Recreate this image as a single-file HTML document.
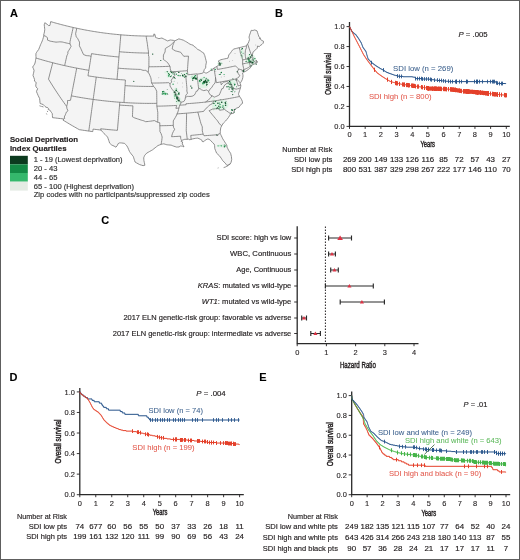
<!DOCTYPE html>
<html><head><meta charset="utf-8"><title>Figure</title><style>
html,body{margin:0;padding:0;background:#fff;}
svg{display:block;will-change:transform;}
text{font-family:"Liberation Sans",sans-serif;}
</style></head><body>
<svg width="520" height="560" viewBox="0 0 520 560">
<rect x="0" y="0" width="520" height="560" fill="#fff"/>
<g fill="#231f20">
<g id="map">
<path d="M44.59,23.35 L44.82,22.72 L45.99,23.52 L47.16,24.31 L47.94,24.98 L48.72,25.65 L49.95,25.43 L50.18,24.35 L50.4,23.26 L50.69,21.62 L52.09,22.02 L53.48,22.43 L54.88,22.83 L56.28,23.22 L57.68,23.6 L59.08,23.98 L60.49,24.36 L61.89,24.72 L63.3,25.09 L64.71,25.44 L66.12,25.8 L67.53,26.14 L68.94,26.48 L70.35,26.81 L71.77,27.14 L73.19,27.46 L74.6,27.78 L76.02,28.09 L77.44,28.39 L78.87,28.69 L80.29,28.99 L81.71,29.27 L83.14,29.55 L84.57,29.83 L85.99,30.1 L87.42,30.36 L88.85,30.62 L90.28,30.87 L91.71,31.12 L93.15,31.36 L94.58,31.59 L96.02,31.82 L97.45,32.04 L98.89,32.26 L100.36,32.47 L101.83,32.68 L103.3,32.88 L104.77,33.08 L106.25,33.27 L107.72,33.45 L109.2,33.63 L110.67,33.8 L112.15,33.97 L113.63,34.13 L115.1,34.28 L116.58,34.43 L118.06,34.57 L119.54,34.7 L121.02,34.83 L122.5,34.95 L123.98,35.07 L125.47,35.18 L126.95,35.28 L128.43,35.38 L129.91,35.47 L131.4,35.55 L132.88,35.63 L134.36,35.7 L135.85,35.77 L137.23,35.82 L138.62,35.87 L140,35.92 L141.39,35.96 L142.77,35.99 L144.16,36.02 L145.54,36.04 L146.93,36.06 L148.31,36.07 L149.7,36.08 L151.09,36.08 L152.47,36.07 L153.86,36.06 L153.84,33.97 L154.95,34.4 L155.25,35.91 L155.55,37.43 L156.67,37.83 L157.8,38.24 L158.93,38.64 L160.42,38.32 L161.91,38 L163.24,38.7 L164.58,39.4 L166.11,40.17 L167.66,40.93 L168.95,40.45 L170.25,39.97 L171.76,40.16 L173.28,40.34 L174.05,40.57 L174.83,40.8 L175.92,40.31 L177.02,39.81 L177.93,39.33 L178.83,38.84 L180.31,39.28 L181.8,39.7 L183.29,40.13 L184.42,40.77 L185.56,41.4 L186.7,42.03 L188.34,43.12 L189.99,44.2 L191.59,44.72 L193.19,45.24 L194.76,47.02 L195.56,47.2 L196.69,48.46 L197.6,49.47 L198.83,49.88 L200.1,50.55 L201.88,52 L202.73,52.45 L203.59,52.89 L204.17,54.22 L204.77,55.55 L205.2,57.18 L205.64,58.82 L206.03,60.47 L206.41,62.11 L206.08,63.86 L205.73,65.62 L205.73,67.89 L205.37,68.23 L204.3,69.51 L203.72,71.3 L203.59,71.88 L204.61,72.45 L205.63,73.02 L206.87,72.96 L207.89,72.3 L208.91,71.63 L209.92,70.97 L211.3,70 L212.68,69.02 L214.04,68.04 L215.45,67.23 L216.85,66.42 L217.88,65.67 L218.91,64.92 L219.96,63.87 L218.99,61.93 L218.22,61.04 L219.53,60.38 L220.84,59.71 L222.16,59.42 L223.47,59.13 L224.78,58.84 L226.36,58.52 L227.94,58.2 L228.55,56.18 L228.71,55 L229.61,53.95 L230.51,52.9 L231.43,51.55 L232.35,50.2 L233.13,49.6 L233.9,48.99 L235.25,48.67 L236.59,48.34 L237.93,48.01 L239.27,47.67 L240.57,47.36 L241.86,47.03 L243.15,46.71 L244.44,46.38 L245.4,46.13 L246.35,45.88 L246.94,44.88 L247.53,43.89 L248.26,43.11 L248.84,41.51 L249.52,39.58 L249.28,38.34 L249.04,37.11 L249.52,35.24 L250.38,32.79 L251.23,30.35 L252.08,30.42 L252.93,30.49 L253.85,30.22 L254.76,29.95 L255.9,30.42 L257.04,30.89 L257.64,32.78 L258.25,34.67 L258.86,36.57 L259.13,37.07 L260.74,38.32 L259.35,38.46 L260.7,39.51 L262.05,40.55 L263.52,41.27 L263.26,43.11 L262,44.38 L261.13,44.94 L260.26,45.5 L259.35,46.65 L257.5,46.03 L257.29,48.13 L256.49,48.95 L255.68,49.77 L254.83,50.45 L253.97,51.13 L253.16,51.94 L252.51,54.16 L252.25,55.51 L252.09,56.78 L253.28,57.73 L252.39,59.14 L252.22,60.06 L253.63,60.56 L254.67,62.02 L256.02,62.24 L257.01,61.96 L257.06,61.07 L256.36,60.39 L255.76,60.55 L256.43,60.66 L257.33,62.46 L256.42,63 L255.52,63.54 L254.75,63.87 L253.56,64.25 L252.92,64.6 L252.66,64.9 L251.85,65.12 L251.04,65.71 L250.23,66.3 L250.58,67.66 L249.42,68.6 L248.25,69.54 L246.97,70.44 L245.67,71.34 L244.59,71.81 L243.52,72.27 L242.59,72.95 L242.82,74.35 L243.04,75.75 L242.8,77.54 L242.35,79.38 L241.48,81.32 L240.64,82.5 L240.17,83.35 L240.81,85.23 L240.7,86.71 L240.48,87.74 L240.02,89.23 L239.56,90.71 L239.08,92.12 L238.6,93.52 L238.59,94.56 L239.59,96.48 L240.51,97.87 L241.43,99.26 L242.35,101.37 L242.55,103.35 L241.12,104.24 L240.05,105.76 L238.98,107.28 L237.89,107.65 L236.8,108.02 L235.79,108.79 L234.78,109.57 L234.21,111.41 L233.63,113.24 L232.15,113.52 L230.68,113.8 L229.51,115.73 L228.33,117.66 L226.97,119.33 L225.6,120.99 L224.68,121.86 L223.76,122.73 L222.78,124.03 L221.72,125.74 L220.75,127.77 L220.4,130.1 L220.29,131.76 L220.19,133.42 L220.72,134.53 L221.26,135.64 L222,137.22 L222.74,138.8 L223.72,140.35 L224.71,141.89 L225.72,143.56 L226.75,145.23 L227.06,147.15 L227.82,148.72 L228.59,150.29 L229.6,151.81 L230.62,153.33 L231.02,154.95 L231.43,156.57 L231.56,158.09 L231.69,159.62 L231.4,160.93 L231.1,162.24 L229.9,164.4 L228.42,164.92 L226.95,165.44 L226.12,164.31 L225.3,163.18 L223.93,161.85 L222.57,160.52 L221.88,159.36 L221.2,158.2 L220.25,156.94 L219.3,155.67 L217.98,154.46 L216.67,153.24 L216.11,151.92 L215.55,150.59 L214.75,148.45 L214.69,147.05 L214.62,145.65 L214.15,144.03 L212.47,142.57 L210.73,140.54 L209.1,139.34 L207.83,138.94 L206.91,139.33 L205.29,140.09 L203.77,141.68 L202.29,141.57 L201.9,140.21 L200.33,139.25 L199.06,138.68 L197.79,138.11 L196.59,138.24 L195.39,138.36 L193.97,138.63 L192.54,138.91 L191.14,139.43 L190.19,139.6 L189.23,139.76 L188.68,138.96 L187.26,139.36 L186.05,139.32 L184.84,139.27 L183.78,139.63 L182.72,139.98 L181.56,140.74 L181.13,141.49 L182.62,141.95 L182.27,143.94 L183.36,145.55 L183.94,146.91 L182.42,146.17 L181.44,146.1 L180.45,146.02 L179.04,146.95 L177.82,147.02 L176.6,147.09 L175.11,146.61 L173.62,146.13 L172.37,145.63 L171.13,145.13 L169.91,145.04 L168.69,144.95 L167.71,144.85 L166.74,144.74 L165.26,144.29 L163.79,143.83 L162.47,144.09 L161.14,144.34 L159.57,144.94 L158,145.52 L156.55,146.66 L155.1,147.8 L153.89,148.78 L152.66,149.77 L151.19,150.61 L149.71,151.44 L148.23,152.27 L146.74,153.1 L145.74,154.2 L144.74,155.31 L144.22,156.55 L143.71,157.8 L143.81,159.19 L143.92,160.58 L144.27,162.25 L144.63,163.92 L144.87,165.25 L143.08,165.67 L141.32,165.11 L139.55,164.55 L138.05,163.73 L136.56,162.92 L135.07,162.04 L134.61,160.63 L134.16,159.23 L133.71,157.82 L133.26,156.42 L132.19,155.12 L131.12,153.82 L130.31,152.67 L129.49,151.52 L128.71,149.67 L127.94,147.82 L126.82,145.8 L125.67,144.57 L124.52,143.33 L123.07,143.16 L121.63,142.98 L120.66,142.92 L119.69,142.86 L118.18,143.59 L117.31,145.49 L115.96,147.19 L115.02,146.64 L114.09,146.09 L112.9,145.58 L111.72,145.06 L110.7,144.13 L109.68,143.2 L109.2,141.75 L108.73,140.3 L108.15,138.7 L107.58,137.1 L106.27,135.71 L104.97,134.31 L103.66,133.05 L102.36,131.78 L100.98,130.05 L99.4,129.87 L97.82,129.68 L96.24,129.49 L94.66,129.3 L93.08,129.1 L92.92,130.35 L92.76,131.6 L91.07,131.38 L89.39,131.15 L87.7,130.92 L86.02,130.68 L84.33,130.43 L82.65,130.18 L80.97,129.92 L79.29,129.66 L77.63,128.73 L75.98,127.79 L74.34,126.85 L72.7,125.91 L71.07,124.96 L69.45,124 L67.83,123.03 L66.22,122.06 L64.61,121.09 L63.01,120.1 L63.73,118.93 L62.12,118.76 L60.52,118.59 L58.92,118.41 L57.32,118.22 L55.72,118.03 L54.11,117.84 L52.51,117.63 L52.38,115.47 L52.3,113.72 L51.42,112.36 L50.52,111.14 L49.62,109.92 L48.27,109.6 L48.54,108.5 L47.98,107.85 L47,107.52 L46.01,107.19 L45.01,106.48 L44.18,105.54 L43.35,104.61 L41.72,104.04 L40.1,103.47 L39.98,102.13 L39.87,100.79 L39.57,98.38 L38.88,97.02 L38.2,95.67 L37.35,93.68 L36.51,91.69 L36.96,90.06 L37.77,88.82 L36.86,87.98 L35.75,86.2 L35.87,84.18 L36.26,82.82 L35.79,82.09 L34.48,81.13 L34.53,79.38 L33.77,77.39 L33.01,75.39 L33.39,73.74 L33.78,72.09 L34.06,70.4 L33.33,68.42 L32.65,67.03 L33.65,65.56 L34.65,64.1 L35.3,61.94 L35.47,60.67 L35.65,59.4 L36.02,58.04 L35.96,56.55 L35.9,55.06 L36.01,53.32 L36.63,52.34 L37.26,51.36 L38.69,49.44 L39.31,47.87 L39.93,46.3 L40.55,44.73 L41.14,43.45 L41.74,42.17 L42.24,40.86 L42.74,39.55 L43.31,37.67 L43.87,35.8 L43.66,35.16 L44.06,33.53 L44.45,31.9 L44.74,29.66 L44.6,28.17 L44.46,26.67 L44.23,24.86 Z" fill="#f4f4f4"/>
<ellipse cx="169" cy="72.3" rx="5" ry="1.2" fill="#d9f2e1" opacity="0.8"/>
<ellipse cx="168.5" cy="75.5" rx="2" ry="2.5" fill="#d9f2e1" opacity="0.8"/>
<ellipse cx="165.4" cy="93.8" rx="2.2" ry="2" fill="#d9f2e1" opacity="0.8"/>
<ellipse cx="175.8" cy="93.5" rx="3" ry="6" fill="#d9f2e1" opacity="0.8"/>
<ellipse cx="178.5" cy="101" rx="3" ry="4" fill="#d9f2e1" opacity="0.8"/>
<ellipse cx="185.3" cy="75.3" rx="2.5" ry="2.5" fill="#d9f2e1" opacity="0.8"/>
<ellipse cx="194.2" cy="77.3" rx="4" ry="2.8" fill="#d9f2e1" opacity="0.8"/>
<ellipse cx="204" cy="81.5" rx="6" ry="4.5" fill="#d9f2e1" opacity="0.8"/>
<ellipse cx="203" cy="86.5" rx="5" ry="1.5" fill="#d9f2e1" opacity="0.8"/>
<ellipse cx="220" cy="63.5" rx="2.7" ry="2" fill="#d9f2e1" opacity="0.8"/>
<ellipse cx="231.5" cy="83.5" rx="4.3" ry="4.3" fill="#d9f2e1" opacity="0.8"/>
<ellipse cx="220.8" cy="104.7" rx="7.8" ry="5.3" fill="#d9f2e1" opacity="0.8"/>
<ellipse cx="251" cy="60" rx="5" ry="6" fill="#d9f2e1" opacity="0.8"/>
<ellipse cx="241.9" cy="53.8" rx="1.9" ry="5.8" fill="#d9f2e1" opacity="0.8"/>
<ellipse cx="222" cy="145.8" rx="5.4" ry="1.6" fill="#d9f2e1" opacity="0.8"/>
<ellipse cx="213.5" cy="104" rx="1.5" ry="7" fill="#d9f2e1" opacity="0.8"/>
<circle cx="169.3" cy="74.4" r="0.53" fill="#0d4f28"/>
<circle cx="175.0" cy="72.1" r="0.60" fill="#0d4f28"/>
<circle cx="167.2" cy="71.5" r="0.59" fill="#0d4f28"/>
<circle cx="168.5" cy="73.7" r="0.60" fill="#137a3d"/>
<circle cx="171.4" cy="75.7" r="0.53" fill="#2e9e5a"/>
<circle cx="174.8" cy="74.1" r="0.55" fill="#2e9e5a"/>
<circle cx="172.3" cy="73.7" r="0.51" fill="#2e9e5a"/>
<circle cx="170.7" cy="76.6" r="0.63" fill="#0d4f28"/>
<circle cx="167.4" cy="72.4" r="0.36" fill="#2e9e5a"/>
<circle cx="170.9" cy="71.6" r="0.69" fill="#0d4f28"/>
<circle cx="184.3" cy="77.3" r="0.44" fill="#0d4f28"/>
<circle cx="184.3" cy="76.0" r="0.38" fill="#0d4f28"/>
<circle cx="185.8" cy="76.4" r="0.48" fill="#2e9e5a"/>
<circle cx="184.5" cy="77.1" r="0.45" fill="#137a3d"/>
<circle cx="186.8" cy="73.4" r="0.53" fill="#137a3d"/>
<circle cx="183.1" cy="76.2" r="0.52" fill="#137a3d"/>
<circle cx="174.1" cy="81.2" r="0.35" fill="#137a3d"/>
<circle cx="175.6" cy="78.3" r="0.44" fill="#137a3d"/>
<circle cx="173.1" cy="84.2" r="0.68" fill="#2e9e5a"/>
<circle cx="163.8" cy="91.4" r="0.58" fill="#137a3d"/>
<circle cx="163.0" cy="94.0" r="0.60" fill="#2e9e5a"/>
<circle cx="162.3" cy="93.9" r="0.70" fill="#137a3d"/>
<circle cx="162.6" cy="91.8" r="0.68" fill="#137a3d"/>
<circle cx="163.0" cy="91.9" r="0.62" fill="#137a3d"/>
<circle cx="163.8" cy="93.4" r="0.52" fill="#0d4f28"/>
<circle cx="177.7" cy="91.6" r="0.47" fill="#0d4f28"/>
<circle cx="174.6" cy="98.1" r="0.40" fill="#0d4f28"/>
<circle cx="176.4" cy="97.1" r="0.46" fill="#0d4f28"/>
<circle cx="176.2" cy="88.8" r="0.46" fill="#137a3d"/>
<circle cx="176.7" cy="101.6" r="0.49" fill="#0d4f28"/>
<circle cx="177.4" cy="97.7" r="0.59" fill="#137a3d"/>
<circle cx="179.0" cy="94.6" r="0.63" fill="#2e9e5a"/>
<circle cx="177.3" cy="94.8" r="0.48" fill="#2e9e5a"/>
<circle cx="176.8" cy="98.3" r="0.67" fill="#137a3d"/>
<circle cx="179.0" cy="92.9" r="0.71" fill="#0d4f28"/>
<circle cx="178.7" cy="93.8" r="0.70" fill="#0d4f28"/>
<circle cx="176.9" cy="96.7" r="0.50" fill="#0d4f28"/>
<circle cx="192.1" cy="77.0" r="0.51" fill="#2e9e5a"/>
<circle cx="195.9" cy="78.0" r="0.54" fill="#0d4f28"/>
<circle cx="194.3" cy="77.6" r="0.47" fill="#0d4f28"/>
<circle cx="196.2" cy="78.5" r="0.45" fill="#0d4f28"/>
<circle cx="195.4" cy="75.7" r="0.65" fill="#137a3d"/>
<circle cx="192.7" cy="80.1" r="0.71" fill="#0d4f28"/>
<circle cx="192.6" cy="78.5" r="0.60" fill="#137a3d"/>
<circle cx="196.4" cy="79.0" r="0.70" fill="#137a3d"/>
<circle cx="202.6" cy="82.8" r="0.43" fill="#2e9e5a"/>
<circle cx="199.6" cy="80.5" r="0.63" fill="#0d4f28"/>
<circle cx="200.0" cy="81.5" r="0.72" fill="#2e9e5a"/>
<circle cx="208.0" cy="80.8" r="0.62" fill="#0d4f28"/>
<circle cx="206.6" cy="85.4" r="0.48" fill="#0d4f28"/>
<circle cx="207.9" cy="79.8" r="0.62" fill="#0d4f28"/>
<circle cx="201.4" cy="80.5" r="0.61" fill="#0d4f28"/>
<circle cx="202.9" cy="78.9" r="0.44" fill="#2e9e5a"/>
<circle cx="205.6" cy="81.5" r="0.73" fill="#2e9e5a"/>
<circle cx="206.2" cy="79.0" r="0.45" fill="#0d4f28"/>
<circle cx="206.6" cy="84.6" r="0.42" fill="#0d4f28"/>
<circle cx="201.3" cy="80.5" r="0.51" fill="#137a3d"/>
<circle cx="206.7" cy="78.3" r="0.43" fill="#0d4f28"/>
<circle cx="204.6" cy="83.5" r="0.54" fill="#2e9e5a"/>
<circle cx="205.8" cy="79.0" r="0.44" fill="#0d4f28"/>
<circle cx="209.7" cy="82.4" r="0.45" fill="#2e9e5a"/>
<circle cx="204.1" cy="77.4" r="0.57" fill="#2e9e5a"/>
<circle cx="207.2" cy="81.9" r="0.44" fill="#0d4f28"/>
<circle cx="221.8" cy="63.2" r="0.42" fill="#0d4f28"/>
<circle cx="219.2" cy="64.7" r="0.54" fill="#137a3d"/>
<circle cx="220.1" cy="64.2" r="0.73" fill="#0d4f28"/>
<circle cx="220.0" cy="65.3" r="0.65" fill="#0d4f28"/>
<circle cx="219.3" cy="74.5" r="0.56" fill="#137a3d"/>
<circle cx="224.1" cy="74.5" r="0.62" fill="#2e9e5a"/>
<circle cx="221.3" cy="72.4" r="0.74" fill="#137a3d"/>
<circle cx="220.3" cy="74.6" r="0.51" fill="#137a3d"/>
<circle cx="229.8" cy="84.5" r="0.56" fill="#0d4f28"/>
<circle cx="230.0" cy="87.6" r="0.55" fill="#0d4f28"/>
<circle cx="232.9" cy="78.8" r="0.52" fill="#0d4f28"/>
<circle cx="228.7" cy="83.7" r="0.49" fill="#137a3d"/>
<circle cx="235.2" cy="84.3" r="0.43" fill="#0d4f28"/>
<circle cx="232.2" cy="89.1" r="0.63" fill="#137a3d"/>
<circle cx="228.8" cy="86.7" r="0.60" fill="#137a3d"/>
<circle cx="227.0" cy="86.8" r="0.69" fill="#0d4f28"/>
<circle cx="232.2" cy="86.6" r="0.36" fill="#0d4f28"/>
<circle cx="232.3" cy="87.9" r="0.57" fill="#137a3d"/>
<circle cx="234.6" cy="84.4" r="0.56" fill="#137a3d"/>
<circle cx="234.5" cy="85.3" r="0.44" fill="#137a3d"/>
<circle cx="233.4" cy="87.7" r="0.48" fill="#137a3d"/>
<circle cx="229.1" cy="89.1" r="0.66" fill="#137a3d"/>
<circle cx="213.9" cy="103.4" r="0.68" fill="#0d4f28"/>
<circle cx="219.2" cy="107.4" r="0.43" fill="#137a3d"/>
<circle cx="222.5" cy="107.5" r="0.43" fill="#0d4f28"/>
<circle cx="223.4" cy="108.6" r="0.40" fill="#2e9e5a"/>
<circle cx="220.6" cy="107.1" r="0.67" fill="#137a3d"/>
<circle cx="220.2" cy="99.7" r="0.41" fill="#0d4f28"/>
<circle cx="215.5" cy="101.5" r="0.75" fill="#137a3d"/>
<circle cx="219.9" cy="107.1" r="0.51" fill="#2e9e5a"/>
<circle cx="219.3" cy="103.0" r="0.59" fill="#137a3d"/>
<circle cx="226.0" cy="101.3" r="0.49" fill="#0d4f28"/>
<circle cx="218.4" cy="108.7" r="0.39" fill="#137a3d"/>
<circle cx="225.2" cy="102.7" r="0.67" fill="#0d4f28"/>
<circle cx="223.8" cy="108.1" r="0.58" fill="#0d4f28"/>
<circle cx="215.6" cy="105.3" r="0.67" fill="#2e9e5a"/>
<circle cx="216.6" cy="108.6" r="0.68" fill="#137a3d"/>
<circle cx="219.0" cy="108.5" r="0.66" fill="#2e9e5a"/>
<circle cx="253.2" cy="58.9" r="0.38" fill="#137a3d"/>
<circle cx="248.9" cy="59.6" r="0.71" fill="#0d4f28"/>
<circle cx="247.7" cy="58.9" r="0.56" fill="#137a3d"/>
<circle cx="251.9" cy="62.4" r="0.74" fill="#0d4f28"/>
<circle cx="245.7" cy="61.4" r="0.45" fill="#137a3d"/>
<circle cx="249.5" cy="54.6" r="0.61" fill="#137a3d"/>
<circle cx="248.3" cy="58.1" r="0.74" fill="#0d4f28"/>
<circle cx="251.2" cy="65.9" r="0.67" fill="#0d4f28"/>
<circle cx="246.3" cy="61.2" r="0.50" fill="#0d4f28"/>
<circle cx="254.9" cy="58.6" r="0.69" fill="#137a3d"/>
<circle cx="250.9" cy="61.2" r="0.73" fill="#0d4f28"/>
<circle cx="249.7" cy="60.3" r="0.50" fill="#2e9e5a"/>
<circle cx="248.4" cy="61.9" r="0.62" fill="#2e9e5a"/>
<circle cx="253.2" cy="61.0" r="0.51" fill="#137a3d"/>
<circle cx="242.2" cy="48.6" r="0.65" fill="#2e9e5a"/>
<circle cx="243.1" cy="53.2" r="0.45" fill="#0d4f28"/>
<circle cx="242.3" cy="48.6" r="0.53" fill="#0d4f28"/>
<circle cx="241.6" cy="49.5" r="0.41" fill="#0d4f28"/>
<circle cx="241.2" cy="55.2" r="0.50" fill="#0d4f28"/>
<circle cx="224.4" cy="146.7" r="0.73" fill="#137a3d"/>
<circle cx="224.3" cy="145.0" r="0.55" fill="#0d4f28"/>
<circle cx="220.1" cy="145.8" r="0.46" fill="#2e9e5a"/>
<circle cx="234.2" cy="112.1" r="0.60" fill="#137a3d"/>
<circle cx="235.0" cy="109.4" r="0.55" fill="#137a3d"/>
<circle cx="234.4" cy="109.5" r="0.60" fill="#0d4f28"/>
<circle cx="231.8" cy="109.9" r="0.72" fill="#0d4f28"/>
<circle cx="231.5" cy="109.7" r="0.54" fill="#2e9e5a"/>
<circle cx="232.6" cy="110.2" r="0.65" fill="#0d4f28"/>
<circle cx="232.3" cy="91.7" r="0.53" fill="#137a3d"/>
<circle cx="236.7" cy="86.7" r="0.50" fill="#137a3d"/>
<circle cx="233.8" cy="88.6" r="0.52" fill="#137a3d"/>
<circle cx="234.1" cy="83.2" r="0.38" fill="#2e9e5a"/>
<circle cx="232.1" cy="88.8" r="0.68" fill="#0d4f28"/>
<circle cx="234.7" cy="91.9" r="0.38" fill="#0d4f28"/>
<circle cx="233.0" cy="89.9" r="0.63" fill="#0d4f28"/>
<circle cx="235.0" cy="91.2" r="0.46" fill="#2e9e5a"/>
<circle cx="173.7" cy="73.9" r="0.50" fill="#2e9e5a"/>
<circle cx="173.4" cy="76.7" r="0.53" fill="#2e9e5a"/>
<circle cx="181.6" cy="73.4" r="0.44" fill="#2e9e5a"/>
<circle cx="178.2" cy="71.7" r="0.36" fill="#2e9e5a"/>
<circle cx="180.1" cy="75.7" r="0.65" fill="#137a3d"/>
<circle cx="176.4" cy="74.1" r="0.68" fill="#137a3d"/>
<circle cx="178.8" cy="72.4" r="0.70" fill="#0d4f28"/>
<circle cx="178.2" cy="75.4" r="0.74" fill="#2e9e5a"/>
<circle cx="167.2" cy="93.8" r="0.58" fill="#0d4f28"/>
<circle cx="164.4" cy="92.3" r="0.38" fill="#2e9e5a"/>
<circle cx="167.9" cy="94.4" r="0.36" fill="#0d4f28"/>
<circle cx="167.2" cy="89.6" r="0.45" fill="#0d4f28"/>
<circle cx="163.8" cy="93.6" r="0.66" fill="#2e9e5a"/>
<circle cx="211.2" cy="69.0" r="0.62" fill="#2e9e5a"/>
<circle cx="211.9" cy="70.2" r="0.63" fill="#0d4f28"/>
<circle cx="215.3" cy="69.5" r="0.69" fill="#2e9e5a"/>
<circle cx="191.8" cy="88.0" r="0.73" fill="#0d4f28"/>
<circle cx="190.8" cy="86.1" r="0.67" fill="#0d4f28"/>
<circle cx="165.4" cy="93.8" r="1.1" fill="#2e9e5a"/>
<circle cx="168.8" cy="75.8" r="0.9" fill="#2e9e5a"/>
<circle cx="203" cy="83.5" r="0.9" fill="#2e9e5a"/>
<circle cx="208.5" cy="80.5" r="0.8" fill="#2e9e5a"/>
<circle cx="199.5" cy="81" r="0.7" fill="#2e9e5a"/>
<circle cx="230.5" cy="83" r="0.8" fill="#2e9e5a"/>
<circle cx="223" cy="106" r="0.8" fill="#2e9e5a"/>
<circle cx="220" cy="104.5" r="0.7" fill="#2e9e5a"/>
<circle cx="218.1" cy="145.8" r="0.6" fill="#2e9e5a"/>
<circle cx="221.5" cy="145.8" r="0.6" fill="#2e9e5a"/>
<circle cx="225.4" cy="145.8" r="0.6" fill="#2e9e5a"/>
<circle cx="249" cy="60.5" r="0.8" fill="#2e9e5a"/>
<circle cx="253.5" cy="60" r="0.7" fill="#2e9e5a"/>
<circle cx="241.5" cy="52" r="0.5" fill="#2e9e5a"/>
<circle cx="242" cy="56" r="0.5" fill="#2e9e5a"/>
<circle cx="175" cy="96" r="0.8" fill="#2e9e5a"/>
<circle cx="194.5" cy="76.5" r="0.7" fill="#2e9e5a"/>
<circle cx="133.8" cy="81.3" r="0.6" fill="#0d4f28"/>
<circle cx="152.7" cy="54.1" r="0.7" fill="#0d4f28"/>
<circle cx="160.8" cy="60.5" r="0.6" fill="#0d4f28"/>
<circle cx="171.5" cy="72.3" r="0.6" fill="#0d4f28"/>
<circle cx="173" cy="72.3" r="0.6" fill="#0d4f28"/>
<circle cx="174.2" cy="77.7" r="0.8" fill="#0d4f28"/>
<circle cx="174.6" cy="92.3" r="1.0" fill="#0d4f28"/>
<circle cx="175.5" cy="94.5" r="0.9" fill="#0d4f28"/>
<circle cx="176.2" cy="90.4" r="0.8" fill="#0d4f28"/>
<circle cx="177.3" cy="98.8" r="0.9" fill="#0d4f28"/>
<circle cx="178.5" cy="100.4" r="0.9" fill="#0d4f28"/>
<circle cx="176.9" cy="97.3" r="0.8" fill="#0d4f28"/>
<circle cx="179.2" cy="100.8" r="0.7" fill="#0d4f28"/>
<circle cx="182.7" cy="75.4" r="0.8" fill="#0d4f28"/>
<circle cx="185.8" cy="76.5" r="0.8" fill="#0d4f28"/>
<circle cx="184.5" cy="74.5" r="0.6" fill="#0d4f28"/>
<circle cx="193.8" cy="78.1" r="1.0" fill="#0d4f28"/>
<circle cx="195.8" cy="78.5" r="0.9" fill="#0d4f28"/>
<circle cx="204.2" cy="81.9" r="1.2" fill="#0d4f28"/>
<circle cx="206.5" cy="82.3" r="1.1" fill="#0d4f28"/>
<circle cx="205.5" cy="80.5" r="0.8" fill="#0d4f28"/>
<circle cx="201" cy="79.5" r="0.7" fill="#0d4f28"/>
<circle cx="207" cy="84.5" r="0.7" fill="#0d4f28"/>
<circle cx="219.6" cy="63.5" r="1.0" fill="#0d4f28"/>
<circle cx="231.2" cy="84.6" r="0.9" fill="#0d4f28"/>
<circle cx="229.6" cy="81.5" r="0.8" fill="#0d4f28"/>
<circle cx="236.2" cy="80" r="0.7" fill="#0d4f28"/>
<circle cx="231.2" cy="91.5" r="0.6" fill="#0d4f28"/>
<circle cx="232.7" cy="94.6" r="0.6" fill="#0d4f28"/>
<circle cx="231.3" cy="86.9" r="0.7" fill="#0d4f28"/>
<circle cx="217.9" cy="103.3" r="0.8" fill="#0d4f28"/>
<circle cx="221.7" cy="102.3" r="0.8" fill="#0d4f28"/>
<circle cx="217.4" cy="108.1" r="0.8" fill="#0d4f28"/>
<circle cx="225.6" cy="105.2" r="0.8" fill="#0d4f28"/>
<circle cx="225.6" cy="103.3" r="0.7" fill="#0d4f28"/>
<circle cx="218.8" cy="106.2" r="0.7" fill="#0d4f28"/>
<circle cx="231.3" cy="112.9" r="0.7" fill="#0d4f28"/>
<circle cx="243.5" cy="71" r="1.0" fill="#0d4f28"/>
<circle cx="237.3" cy="71.7" r="0.7" fill="#0d4f28"/>
<circle cx="251.9" cy="55.4" r="0.8" fill="#0d4f28"/>
<circle cx="250.4" cy="57.1" r="0.8" fill="#0d4f28"/>
<circle cx="248.8" cy="58.8" r="0.7" fill="#0d4f28"/>
<circle cx="250" cy="61.9" r="1.0" fill="#0d4f28"/>
<circle cx="252.7" cy="62.7" r="0.9" fill="#0d4f28"/>
<circle cx="256.2" cy="64.2" r="0.6" fill="#0d4f28"/>
<circle cx="216.9" cy="135" r="0.7" fill="#0d4f28"/>
<circle cx="220.4" cy="73.8" r="0.45" fill="#9a9a9a"/>
<circle cx="224.2" cy="76.2" r="0.45" fill="#9a9a9a"/>
<circle cx="215.8" cy="71.5" r="0.45" fill="#9a9a9a"/>
<circle cx="221.2" cy="77" r="0.45" fill="#9a9a9a"/>
<circle cx="255.8" cy="45" r="0.45" fill="#9a9a9a"/>
<circle cx="235" cy="53.5" r="0.45" fill="#9a9a9a"/>
<circle cx="229.6" cy="61.2" r="0.45" fill="#9a9a9a"/>
<circle cx="232.7" cy="60.4" r="0.45" fill="#9a9a9a"/>
<circle cx="158.8" cy="77.7" r="0.45" fill="#9a9a9a"/>
<circle cx="182.7" cy="83" r="0.45" fill="#9a9a9a"/>
<circle cx="182.7" cy="86.9" r="0.45" fill="#9a9a9a"/>
<circle cx="177.7" cy="83" r="0.45" fill="#9a9a9a"/>
<path d="M44.59,23.35 L44.82,22.72 L45.99,23.52 L47.16,24.31 L47.94,24.98 L48.72,25.65 L49.95,25.43 L50.18,24.35 L50.4,23.26 L50.69,21.62 L52.09,22.02 L53.48,22.43 L54.88,22.83 L56.28,23.22 L57.68,23.6 L59.08,23.98 L60.49,24.36 L61.89,24.72 L63.3,25.09 L64.71,25.44 L66.12,25.8 L67.53,26.14 L68.94,26.48 L70.35,26.81 L71.77,27.14 L73.19,27.46 L74.6,27.78 L76.02,28.09 L77.44,28.39 L78.87,28.69 L80.29,28.99 L81.71,29.27 L83.14,29.55 L84.57,29.83 L85.99,30.1 L87.42,30.36 L88.85,30.62 L90.28,30.87 L91.71,31.12 L93.15,31.36 L94.58,31.59 L96.02,31.82 L97.45,32.04 L98.89,32.26 L100.36,32.47 L101.83,32.68 L103.3,32.88 L104.77,33.08 L106.25,33.27 L107.72,33.45 L109.2,33.63 L110.67,33.8 L112.15,33.97 L113.63,34.13 L115.1,34.28 L116.58,34.43 L118.06,34.57 L119.54,34.7 L121.02,34.83 L122.5,34.95 L123.98,35.07 L125.47,35.18 L126.95,35.28 L128.43,35.38 L129.91,35.47 L131.4,35.55 L132.88,35.63 L134.36,35.7 L135.85,35.77 L137.23,35.82 L138.62,35.87 L140,35.92 L141.39,35.96 L142.77,35.99 L144.16,36.02 L145.54,36.04 L146.93,36.06 L148.31,36.07 L149.7,36.08 L151.09,36.08 L152.47,36.07 L153.86,36.06 L153.84,33.97 L154.95,34.4 L155.25,35.91 L155.55,37.43 L156.67,37.83 L157.8,38.24 L158.93,38.64 L160.42,38.32 L161.91,38 L163.24,38.7 L164.58,39.4 L166.11,40.17 L167.66,40.93 L168.95,40.45 L170.25,39.97 L171.76,40.16 L173.28,40.34 L174.05,40.57 L174.83,40.8 L175.92,40.31 L177.02,39.81 L177.93,39.33 L178.83,38.84 L180.31,39.28 L181.8,39.7 L183.29,40.13 L184.42,40.77 L185.56,41.4 L186.7,42.03 L188.34,43.12 L189.99,44.2 L191.59,44.72 L193.19,45.24 L194.76,47.02 L195.56,47.2 L196.69,48.46 L197.6,49.47 L198.83,49.88 L200.1,50.55 L201.88,52 L202.73,52.45 L203.59,52.89 L204.17,54.22 L204.77,55.55 L205.2,57.18 L205.64,58.82 L206.03,60.47 L206.41,62.11 L206.08,63.86 L205.73,65.62 L205.73,67.89 L205.37,68.23 L204.3,69.51 L203.72,71.3 L203.59,71.88 L204.61,72.45 L205.63,73.02 L206.87,72.96 L207.89,72.3 L208.91,71.63 L209.92,70.97 L211.3,70 L212.68,69.02 L214.04,68.04 L215.45,67.23 L216.85,66.42 L217.88,65.67 L218.91,64.92 L219.96,63.87 L218.99,61.93 L218.22,61.04 L219.53,60.38 L220.84,59.71 L222.16,59.42 L223.47,59.13 L224.78,58.84 L226.36,58.52 L227.94,58.2 L228.55,56.18 L228.71,55 L229.61,53.95 L230.51,52.9 L231.43,51.55 L232.35,50.2 L233.13,49.6 L233.9,48.99 L235.25,48.67 L236.59,48.34 L237.93,48.01 L239.27,47.67 L240.57,47.36 L241.86,47.03 L243.15,46.71 L244.44,46.38 L245.4,46.13 L246.35,45.88 L246.94,44.88 L247.53,43.89 L248.26,43.11 L248.84,41.51 L249.52,39.58 L249.28,38.34 L249.04,37.11 L249.52,35.24 L250.38,32.79 L251.23,30.35 L252.08,30.42 L252.93,30.49 L253.85,30.22 L254.76,29.95 L255.9,30.42 L257.04,30.89 L257.64,32.78 L258.25,34.67 L258.86,36.57 L259.13,37.07 L260.74,38.32 L259.35,38.46 L260.7,39.51 L262.05,40.55 L263.52,41.27 L263.26,43.11 L262,44.38 L261.13,44.94 L260.26,45.5 L259.35,46.65 L257.5,46.03 L257.29,48.13 L256.49,48.95 L255.68,49.77 L254.83,50.45 L253.97,51.13 L253.16,51.94 L252.51,54.16 L252.25,55.51 L252.09,56.78 L253.28,57.73 L252.39,59.14 L252.22,60.06 L253.63,60.56 L254.67,62.02 L256.02,62.24 L257.01,61.96 L257.06,61.07 L256.36,60.39 L255.76,60.55 L256.43,60.66 L257.33,62.46 L256.42,63 L255.52,63.54 L254.75,63.87 L253.56,64.25 L252.92,64.6 L252.66,64.9 L251.85,65.12 L251.04,65.71 L250.23,66.3 L250.58,67.66 L249.42,68.6 L248.25,69.54 L246.97,70.44 L245.67,71.34 L244.59,71.81 L243.52,72.27 L242.59,72.95 L242.82,74.35 L243.04,75.75 L242.8,77.54 L242.35,79.38 L241.48,81.32 L240.64,82.5 L240.17,83.35 L240.81,85.23 L240.7,86.71 L240.48,87.74 L240.02,89.23 L239.56,90.71 L239.08,92.12 L238.6,93.52 L238.59,94.56 L239.59,96.48 L240.51,97.87 L241.43,99.26 L242.35,101.37 L242.55,103.35 L241.12,104.24 L240.05,105.76 L238.98,107.28 L237.89,107.65 L236.8,108.02 L235.79,108.79 L234.78,109.57 L234.21,111.41 L233.63,113.24 L232.15,113.52 L230.68,113.8 L229.51,115.73 L228.33,117.66 L226.97,119.33 L225.6,120.99 L224.68,121.86 L223.76,122.73 L222.78,124.03 L221.72,125.74 L220.75,127.77 L220.4,130.1 L220.29,131.76 L220.19,133.42 L220.72,134.53 L221.26,135.64 L222,137.22 L222.74,138.8 L223.72,140.35 L224.71,141.89 L225.72,143.56 L226.75,145.23 L227.06,147.15 L227.82,148.72 L228.59,150.29 L229.6,151.81 L230.62,153.33 L231.02,154.95 L231.43,156.57 L231.56,158.09 L231.69,159.62 L231.4,160.93 L231.1,162.24 L229.9,164.4 L228.42,164.92 L226.95,165.44 L226.12,164.31 L225.3,163.18 L223.93,161.85 L222.57,160.52 L221.88,159.36 L221.2,158.2 L220.25,156.94 L219.3,155.67 L217.98,154.46 L216.67,153.24 L216.11,151.92 L215.55,150.59 L214.75,148.45 L214.69,147.05 L214.62,145.65 L214.15,144.03 L212.47,142.57 L210.73,140.54 L209.1,139.34 L207.83,138.94 L206.91,139.33 L205.29,140.09 L203.77,141.68 L202.29,141.57 L201.9,140.21 L200.33,139.25 L199.06,138.68 L197.79,138.11 L196.59,138.24 L195.39,138.36 L193.97,138.63 L192.54,138.91 L191.14,139.43 L190.19,139.6 L189.23,139.76 L188.68,138.96 L187.26,139.36 L186.05,139.32 L184.84,139.27 L183.78,139.63 L182.72,139.98 L181.56,140.74 L181.13,141.49 L182.62,141.95 L182.27,143.94 L183.36,145.55 L183.94,146.91 L182.42,146.17 L181.44,146.1 L180.45,146.02 L179.04,146.95 L177.82,147.02 L176.6,147.09 L175.11,146.61 L173.62,146.13 L172.37,145.63 L171.13,145.13 L169.91,145.04 L168.69,144.95 L167.71,144.85 L166.74,144.74 L165.26,144.29 L163.79,143.83 L162.47,144.09 L161.14,144.34 L159.57,144.94 L158,145.52 L156.55,146.66 L155.1,147.8 L153.89,148.78 L152.66,149.77 L151.19,150.61 L149.71,151.44 L148.23,152.27 L146.74,153.1 L145.74,154.2 L144.74,155.31 L144.22,156.55 L143.71,157.8 L143.81,159.19 L143.92,160.58 L144.27,162.25 L144.63,163.92 L144.87,165.25 L143.08,165.67 L141.32,165.11 L139.55,164.55 L138.05,163.73 L136.56,162.92 L135.07,162.04 L134.61,160.63 L134.16,159.23 L133.71,157.82 L133.26,156.42 L132.19,155.12 L131.12,153.82 L130.31,152.67 L129.49,151.52 L128.71,149.67 L127.94,147.82 L126.82,145.8 L125.67,144.57 L124.52,143.33 L123.07,143.16 L121.63,142.98 L120.66,142.92 L119.69,142.86 L118.18,143.59 L117.31,145.49 L115.96,147.19 L115.02,146.64 L114.09,146.09 L112.9,145.58 L111.72,145.06 L110.7,144.13 L109.68,143.2 L109.2,141.75 L108.73,140.3 L108.15,138.7 L107.58,137.1 L106.27,135.71 L104.97,134.31 L103.66,133.05 L102.36,131.78 L100.98,130.05 L99.4,129.87 L97.82,129.68 L96.24,129.49 L94.66,129.3 L93.08,129.1 L92.92,130.35 L92.76,131.6 L91.07,131.38 L89.39,131.15 L87.7,130.92 L86.02,130.68 L84.33,130.43 L82.65,130.18 L80.97,129.92 L79.29,129.66 L77.63,128.73 L75.98,127.79 L74.34,126.85 L72.7,125.91 L71.07,124.96 L69.45,124 L67.83,123.03 L66.22,122.06 L64.61,121.09 L63.01,120.1 L63.73,118.93 L62.12,118.76 L60.52,118.59 L58.92,118.41 L57.32,118.22 L55.72,118.03 L54.11,117.84 L52.51,117.63 L52.38,115.47 L52.3,113.72 L51.42,112.36 L50.52,111.14 L49.62,109.92 L48.27,109.6 L48.54,108.5 L47.98,107.85 L47,107.52 L46.01,107.19 L45.01,106.48 L44.18,105.54 L43.35,104.61 L41.72,104.04 L40.1,103.47 L39.98,102.13 L39.87,100.79 L39.57,98.38 L38.88,97.02 L38.2,95.67 L37.35,93.68 L36.51,91.69 L36.96,90.06 L37.77,88.82 L36.86,87.98 L35.75,86.2 L35.87,84.18 L36.26,82.82 L35.79,82.09 L34.48,81.13 L34.53,79.38 L33.77,77.39 L33.01,75.39 L33.39,73.74 L33.78,72.09 L34.06,70.4 L33.33,68.42 L32.65,67.03 L33.65,65.56 L34.65,64.1 L35.3,61.94 L35.47,60.67 L35.65,59.4 L36.02,58.04 L35.96,56.55 L35.9,55.06 L36.01,53.32 L36.63,52.34 L37.26,51.36 L38.69,49.44 L39.31,47.87 L39.93,46.3 L40.55,44.73 L41.14,43.45 L41.74,42.17 L42.24,40.86 L42.74,39.55 L43.31,37.67 L43.87,35.8 L43.66,35.16 L44.06,33.53 L44.45,31.9 L44.74,29.66 L44.6,28.17 L44.46,26.67 L44.23,24.86 Z" fill="none" stroke="#737373" stroke-width="0.8" stroke-linejoin="round"/>
<path d="M39.5,105.76 L40.59,106.14 L41.68,106.51 M41.93,106.45 L43.46,106.96 M46.98,111.02 L47.97,111.84 M46.38,113.48 L46.86,114.47 M230.02,163.54 L229.02,164.6 L228.02,165.66 L226.82,166.29 L225.62,166.93 L223.64,167.62 M218.47,167.87 L217.72,168.09 M43.77,35.48 L44.84,35.95 L45.92,36.42 L46.58,36.9 L47.25,37.39 L47.6,38.95 L47.48,40.08 L48.85,40.61 L50.23,41.15 L51.77,41.43 L53.32,41.71 L54.67,41.93 L56.03,42.15 L57.27,42.05 L58.5,41.95 L59.74,41.84 L60.96,41.92 L62.19,41.99 L63.48,42.31 L64.78,42.62 L66.08,42.93 L67.38,43.23 L68.68,43.53 L69.99,43.82 M73.19,27.46 L72.74,29.45 L72.3,31.44 L71.85,33.43 L71.4,35.43 L70.95,37.43 L70.5,39.43 L70.05,41.43 L70.02,42.63 L69.99,43.82 M69.99,43.82 L70.54,45.09 L71.1,46.36 L70.42,47.64 L69.74,48.92 L68.79,50.43 L67.84,51.94 L67.87,53.67 L67.37,54.71 L66.87,55.75 L66.42,57.72 L65.98,59.69 L65.53,61.67 L65.09,63.65 L64.64,65.62 M36.02,58.04 L37.59,58.52 L39.17,58.99 L40.75,59.45 L42.33,59.91 L43.91,60.36 L45.49,60.81 L47.08,61.24 L48.67,61.67 L50.26,62.1 L51.85,62.52 L53.44,62.93 L55.03,63.33 L56.63,63.73 L58.23,64.12 L59.83,64.51 L61.43,64.89 L63.03,65.26 L64.64,65.62 L66.24,65.98 L67.85,66.33 L69.46,66.67 L71.07,67.01 L72.68,67.34 L74.29,67.67 L75.91,67.98 L77.52,68.29 L79.14,68.6 L80.76,68.89 L82.38,69.18 L84,69.47 L85.62,69.74 L87.24,70.01 L88.87,70.28 M52.73,62.75 L52.21,64.79 L51.68,66.84 L51.15,68.89 L50.62,70.93 L50.09,72.98 L49.56,75.03 L49.04,77.08 L48.51,79.13 L49.71,81.1 L50.93,83.07 L52.16,85.04 L53.4,87 L54.66,88.96 L55.94,90.92 L57.22,92.87 L58.53,94.81 L59.84,96.76 L61.17,98.7 L62.52,100.63 L63.88,102.56 L65.25,104.49 L66.64,106.41 M66.64,106.41 L67.1,104.78 L67.56,103.15 L67.52,101.84 L67.48,100.54 L68.86,100.53 L70.5,100.27 L70.93,98.05 L71.35,95.84 M71.35,95.84 L71.77,93.7 L72.18,91.57 L72.59,89.44 L73.01,87.31 L73.42,85.18 L73.83,83.05 L74.25,80.91 L74.66,78.78 L75.07,76.65 L75.48,74.52 L75.9,72.4 L76.31,70.27 L76.72,68.14 M66.64,106.41 L67.01,108.78 L68.03,110.71 L66.35,112.1 L65.86,113.44 L65.36,114.78 L64.77,115.95 L64.18,117.12 L64.93,118.13 L63.73,118.93 M76.78,28.25 L76.39,30.09 L75.99,31.93 L75.6,33.77 L75.94,35.35 L76.29,36.93 L76.92,37.63 L77.55,38.32 L78.53,40.23 L79.52,42.13 L79.45,43.96 L79.39,45.8 L80.03,47.06 L80.69,48.33 L81.39,49.88 L82.1,51.44 L82.81,53 L83.54,54.55 L84.86,55.07 L86.18,55.59 L87.77,55.72 L89.36,55.84 L90.22,56.12 L91.08,56.4 M87.98,75.84 L88.34,73.61 L88.69,71.39 L89.05,69.16 L89.4,66.94 L89.76,64.72 L90.11,62.5 L90.46,60.28 L90.82,58.07 L91.17,55.85 L91.53,53.64 M91.53,53.64 L93.04,53.88 L94.56,54.11 L96.08,54.34 L97.6,54.56 L99.12,54.77 L100.64,54.98 L102.16,55.18 L103.69,55.38 L105.21,55.57 L106.73,55.75 L108.26,55.93 L109.78,56.1 L111.31,56.26 L112.84,56.42 L114.37,56.57 L115.9,56.72 L117.42,56.86 L118.95,56.99 M87.98,75.84 L89.6,76.1 L91.22,76.34 L92.84,76.59 L94.46,76.82 L96.08,77.05 L97.7,77.27 L99.32,77.49 L100.95,77.69 L102.57,77.89 L104.2,78.09 L105.83,78.28 L107.45,78.46 L109.08,78.63 L110.71,78.8 L112.34,78.96 L113.97,79.12 L115.6,79.27 L117.23,79.41 L118.87,79.54 L120.5,79.67 L122.13,79.79 L123.76,79.9 L125.4,80.01 M96.26,77.07 L95.96,79.23 L95.66,81.4 L95.36,83.56 L95.06,85.72 L94.77,87.88 L94.47,90.05 L94.17,92.21 L93.87,94.37 L93.57,96.54 L93.27,98.7 L92.97,100.86 L92.67,103.02 L92.37,105.19 L92.08,107.35 L91.78,109.51 L91.48,111.67 L91.18,113.83 L90.88,115.99 L90.58,118.15 L90.29,120.3 L89.99,122.46 L89.69,124.62 L89.39,126.77 L89.09,128.92 L88.8,131.07 M71.35,95.84 L73.08,96.16 L74.8,96.48 L76.53,96.8 L78.25,97.1 L79.98,97.4 L81.71,97.69 L83.44,97.98 L85.17,98.25 L86.91,98.52 L88.64,98.79 L90.37,99.04 L92.11,99.29 L93.85,99.53 L95.59,99.76 L97.32,99.99 L99.06,100.21 L100.8,100.42 L102.55,100.63 L104.29,100.82 L106.03,101.01 L107.78,101.2 L109.52,101.37 L111.27,101.54 L113.01,101.7 L114.76,101.85 L116.51,102 L118.26,102.14 L120,102.27 L121.75,102.39 L123.5,102.51 L125.25,102.62 L127,102.72 L128.75,102.82 L130.51,102.91 L132.26,102.99 L134.01,103.06 L135.76,103.13 L137.52,103.19 L139.27,103.24 L141.02,103.28 L142.77,103.32 L144.53,103.35 L146.28,103.37 L148.03,103.38 L149.79,103.39 L151.54,103.39 L153.3,103.38 L155.05,103.37 L156.8,103.35 M119.77,102.25 L119.67,103.66 L119.56,105.07 L121.23,105.19 L122.89,105.3 L124.56,105.41 L126.23,105.51 L127.89,105.6 L129.56,105.69 L131.23,105.77 L132.9,105.84 L132.8,108.03 L132.71,110.22 L132.62,112.4 L132.53,114.59 L132.44,116.77 M119.56,105.07 L119.39,107.18 L119.21,109.29 L119.03,111.39 L118.85,113.5 L118.67,115.61 L118.49,117.71 L118.31,119.82 L118.13,121.92 L117.95,124.03 L117.77,126.13 L117.6,128.23 L117.42,130.33 L115.55,130.19 L113.69,130.04 L111.83,129.88 L109.97,129.71 L108.12,129.54 L106.26,129.36 L104.4,129.17 L102.55,128.97 L100.69,128.77 L100.98,130.05 M125.4,80.01 L125.26,82.26 L125.11,84.51 L124.97,86.77 L124.82,89.02 L124.68,91.27 L124.54,93.53 L124.39,95.78 L124.25,98.03 L124.11,100.29 L123.96,102.54 M125.04,85.64 L126.72,85.74 L128.4,85.84 L130.09,85.93 L131.77,86.01 L133.45,86.09 L135.14,86.16 L136.82,86.22 L138.51,86.27 L140.19,86.32 L141.88,86.36 L143.56,86.39 L145.25,86.42 L146.93,86.44 L148.62,86.45 L150.3,86.46 L151.99,86.46 L153.67,86.45 M117.05,79.39 L117.24,77.14 L117.43,74.9 L117.62,72.66 L117.81,70.41 L118,68.17 L118.19,65.93 L118.38,63.69 L118.57,61.46 L118.76,59.22 L118.95,56.99 L119.14,54.76 L119.33,52.53 L119.52,50.3 L119.71,48.08 L119.9,45.86 L120.09,43.65 L120.27,41.43 L120.46,39.22 L120.65,37.02 L120.84,34.81 M119.4,51.75 L120.93,51.88 L122.46,52 L123.99,52.11 L125.52,52.22 L127.05,52.32 L128.58,52.42 L130.11,52.5 L131.65,52.59 L133.18,52.66 L134.71,52.73 L136.25,52.79 L137.78,52.85 L139.31,52.9 L140.85,52.95 L142.38,52.98 L143.92,53.02 L145.45,53.04 L146.99,53.06 L148.52,53.07 M118,68.17 L119.61,68.3 L121.22,68.43 L122.83,68.55 L124.43,68.66 L126.04,68.77 L127.65,68.87 L129.26,68.96 L130.87,69.05 L132.48,69.13 L134.09,69.2 L135.7,69.26 L137.31,69.32 L138.92,69.38 L140.54,69.42 L141.74,69.87 L142.96,70.32 L144.38,70.35 L145.81,70.37 L147.02,71.37 L148.24,72.36 M146.13,36.05 L146.35,37.71 L146.58,39.37 L146.93,41.32 L147.29,43.26 L147.47,44.74 L147.64,46.23 L147.82,47.71 L148.1,49.39 L148.38,51.06 L148.52,53.07 M148.52,53.07 L148.51,54.58 L148.5,56.09 L148.93,56.65 L148.92,58.67 L148.91,60.68 L148.9,62.7 L148.89,64.72 L148.88,66.74 M148.88,66.74 L148.67,68.15 L148.46,69.55 L148.35,70.95 L148.24,72.36 M148.88,66.74 L150.39,66.75 L151.9,66.74 L153.41,66.74 L154.92,66.72 L156.42,66.7 L157.93,66.68 L159.44,66.65 L160.95,66.61 L162.45,66.57 L163.96,66.52 L165.47,66.46 L166.98,66.4 L168.48,66.33 L169.99,66.26 M148.24,72.36 L149.26,74.05 L149.98,75.75 L150.7,77.44 L151.12,79.13 L151.33,81.38 L151.67,83.07 L152.67,84.76 L153.67,86.45 L155.18,88.13 L155.94,89.67 L156.71,91.21 L156.73,93.23 L156.76,95.26 L156.78,97.28 L156.8,99.3 L156.82,101.32 L156.85,103.35 M151.67,83.07 L153.22,83.06 L154.77,83.05 L156.32,83.03 L157.87,83.01 L159.41,82.98 L160.96,82.94 L162.51,82.9 L164.06,82.85 L165.61,82.79 L167.16,82.73 L168.71,82.67 L170.03,83.85 M165.32,48.55 L165.19,50.22 L165.07,51.9 L164.25,53.47 L163.42,55.04 L163.4,57.28 L163.38,59.52 L164.39,60.19 L165.41,60.85 L166.44,61.65 L167.48,62.45 L168.73,64.35 L169.99,66.26 M169.99,66.26 L170.24,68.36 L170.49,70.46 L171.54,71.11 L172.6,71.75 L174.13,73.35 L174.41,74.47 L174.68,75.58 L173.13,77.36 L172.17,78.83 L171.2,80.29 L171.7,81.96 L170.87,82.9 L170.03,83.85 L170,86 L171.04,87.64 L172.09,89.28 L173.01,90.36 L173.93,91.44 L175.75,93.03 L175.85,94.72 L177.24,96.05 L178.64,97.37 L178.97,99.05 L179.31,100.72 L180.97,102.3 L180.65,104.02 L179.62,105.23 L179.27,106.66 L178.91,108.1 L178.56,109.54 L178.2,110.98 L177.44,113.28 L176.64,115.03 L175.4,117.36 L174.35,119.11 L173.29,120.86 L173.29,123.11 L173.29,125.37 L173.64,127.6 L174.66,129.24 L173.37,131.56 L172.51,133.29 L172.02,134.99 L171.52,136.7 M156.84,106.17 L158.5,106.14 L160.16,106.11 L161.82,106.07 L163.48,106.02 L165.13,105.97 L166.79,105.91 L168.45,105.84 L170.1,105.77 L171.76,105.69 L173.42,105.61 L175.07,105.51 L176.73,105.41 L176.3,106.88 L175.88,108.35 L177.4,108.23 L178.91,108.1 M156.8,103.35 L156.82,104.76 L156.84,106.17 M156.84,106.17 L157.16,108.24 L157.47,110.3 L157.79,112.36 L157.78,114.35 L157.77,116.33 L157.75,118.32 L157.74,120.3 L157.72,122.29 M132.44,116.77 L133.33,117.26 L134.23,117.75 L136.04,118.38 L137.4,118.84 L138.76,119.31 L140.13,119.76 L141.5,120.22 L142.64,120.52 L143.79,120.82 L144.71,121.26 L145.62,121.69 L147.01,121.57 L148.39,121.44 L149.55,121.3 L150.7,121.16 L152.54,120.87 L154.38,120.58 L156.05,121.44 L157.72,122.29 M157.72,122.29 L158.75,122.52 L159.77,122.76 L159.81,124.95 L159.86,127.14 L159.9,129.34 L159.95,131.53 L161.13,133.69 L161.65,135.37 L162.17,137.04 L161.97,138.72 L161.77,140.41 L161.45,142.38 L161.14,144.34 M159.83,125.74 L161.51,125.71 L163.18,125.68 L164.86,125.65 L166.54,125.61 L168.21,125.56 L169.89,125.5 L171.57,125.44 L173.24,125.37 M171.52,136.7 L173.35,136.62 L175.17,136.52 L176.99,136.42 L178.81,136.31 L180.64,136.19 L180.69,138.44 L181.13,139.59 L181.56,140.74 M186.08,113.23 L186.58,113.75 L186.55,115.87 L186.51,118 L186.47,120.12 L186.43,122.24 L186.38,124.36 L186.34,126.48 L186.29,128.6 L186.24,130.72 L186.5,132.88 L186.75,135.04 L187.01,137.2 L187.26,139.36 M176.57,113.9 L178.38,113.79 L180.18,113.67 L181.99,113.54 L183.79,113.41 L185.6,113.27 L187.4,113.11 L189.21,112.96 L191.01,112.79 L192.81,112.62 L194.61,112.44 L196.41,112.25 L198.21,112.06 L200.01,111.85 L201.81,111.64 L203.61,111.42 M197.83,112.1 L198.35,114.03 L198.87,115.95 L199.4,117.88 L199.92,119.8 L200.45,121.73 L200.98,123.65 L201.64,125.27 L202.3,126.89 L202.29,128.87 L202.28,130.85 L202.71,132.5 L203.14,134.14 M191.14,139.43 L190.96,137.42 L190.78,135.41 L192.55,135.25 L194.32,135.08 L196.08,134.91 L197.85,134.73 L199.61,134.54 L201.38,134.34 L203.14,134.14 M203.14,134.14 L204,135.74 L205.82,135.62 L207.64,135.5 L209.47,135.37 L211.29,135.24 L213.11,135.09 L214.93,134.94 L216.75,134.79 L217.64,135.85 L217.92,134.45 L219.05,133.93 L220.19,133.42 M209.1,110.71 L210.76,112.76 L212.44,114.8 L213.28,115.81 L214.13,116.83 L215.56,118.61 L216.55,119.74 L217.54,120.87 L218.81,122.95 L220.55,124.96 L221.72,125.74 M209.1,110.71 L210.82,109.9 L212.54,109.09 L213.95,108.95 L215.36,108.81 L216.77,108.66 L218.18,108.51 L218.94,108.96 L219.61,110.28 L221.26,110.01 L222.91,109.74 L224.55,109.46 L226.58,110.91 L228.63,112.36 L230.68,113.8 M203.61,111.42 L204.84,109.56 L205.87,108.72 L206.89,107.88 L208.08,106.58 L209.26,105.28 L210.74,104.5 L212.21,103.72 L213.18,102.32 L214.14,100.92 M214.14,100.92 L215.84,100.67 L217.55,100.42 L219.25,100.16 L220.95,99.89 L222.65,99.61 L224.35,99.33 L226.05,99.04 L227.75,98.75 L229.44,98.45 L231.14,98.14 L232.83,97.82 L234.52,97.5 L236.21,97.17 L237.9,96.83 L239.59,96.48 M179.62,105.23 L181.23,105.11 L182.84,104.99 L184.44,104.87 L186.05,104.74 L185.97,103.72 L187.73,103.61 L189.49,103.5 L191.25,103.37 L193.01,103.24 L194.77,103.1 L196.53,102.95 L198.29,102.8 L200.05,102.64 L201.81,102.47 L203.57,102.29 L205.32,102.11 L207.09,101.88 L208.85,101.65 L210.61,101.42 L212.38,101.17 L214.14,100.92 M205.32,102.11 L206.73,101.21 L208.13,100.31 L209.49,98.83 L210.83,97.36 L212.07,95.81 M212.07,95.81 L210.51,95.12 L209.67,93.9 L208.84,92.68 M212.07,95.81 L213.22,96.46 L214.36,97.12 L215.63,96.63 L216.89,96.15 L218.12,95.52 L219.35,94.89 L219.98,93.35 L220.61,91.81 L221.23,90.27 L221.84,88.73 L223.12,88.51 L224,86.05 L224.9,85.03 L225.8,84 L227.02,83.48 L228.23,82.96 L228.54,82.79 M228.54,82.79 L227.07,81.46 L226.23,81.62 L225.39,81.78 L223.71,82.09 L222.6,83.15 L221.24,84.83 L220.99,83.38 L220.74,81.94 M216.37,82.68 L218.02,82.4 L219.68,82.12 L221.33,81.83 L222.99,81.53 L224.64,81.23 L226.29,80.92 L227.94,80.6 L229.59,80.28 L231.23,79.95 L232.88,79.61 L234.52,79.27 L236.16,78.92 M228.54,82.79 L229.54,83.22 L230.55,83.66 L231.88,84.83 L231.95,86.25 L231.8,87.72 L233.25,88.3 L234.67,88.72 L236.1,89.15 M216.37,82.68 L216.02,80.58 L215.68,78.48 L215.33,76.39 L214.99,74.29 L214.64,72.2 L214.3,70.1 M215.53,77.56 L215.44,79.4 L215.36,81.24 L215,83.01 L213.99,84.17 L212.98,85.33 L211.8,87.51 L210.43,88.57 L209.55,89.99 L208.65,91.4 L208.84,92.68 M208.65,91.4 L207.68,90.68 L206.7,89.96 L205.22,90.3 L203.74,90.64 L202.6,90.22 L201.46,89.79 L200,88.55 L198.64,88.71 L197.27,91.15 L196.2,91.27 L195.69,92.54 L195.17,93.82 L194.22,95.17 L193.18,95.71 L192.14,96.24 L191.05,96.35 L189.96,96.45 L188.64,96.43 L187.33,96.41 L186.38,96.92 L185.44,97.42 L184.97,99.73 L183.79,101.52 L182.38,101.91 L180.97,102.3 M217.12,67.97 L217.37,69.47 L218.87,69.21 L220.36,68.95 L221.85,68.67 L223.34,68.4 L224.83,68.11 L226.32,67.82 L227.81,67.53 L229.29,67.23 L230.78,66.92 L232.26,66.61 L233.74,66.29 L235.23,65.96 L236.48,66.84 L237.56,67.89 L238.66,68.95 M238.66,68.95 L237.52,71.51 L238.16,73.39 L238.61,74.45 L239.89,75.32 L238.75,77.02 L237.69,78.12 M238.66,68.95 L240.5,69.53 L242.35,70.11 L242.27,71.58 M237.69,78.12 L236.82,78.14 L236.16,78.92 L236.64,80.65 L237.11,82.38 L237.58,84.11 L238.06,85.84 L239.44,85.54 L240.81,85.23 M240.48,87.74 L239.57,88.17 L238.66,88.6 M239.27,47.67 L239.61,49.06 L239.95,50.45 L240.18,51.84 L240.41,53.22 L240.99,54.32 L241.57,55.42 L241.93,56.92 L242.3,58.41 L242.66,59.9 M246.35,45.88 L246.41,47.66 L245.93,48.95 L245.44,50.23 L245.27,52.01 L245.11,53.79 L245.26,55.2 L245.41,56.61 L245.63,57.92 L245.86,59.22 M242.66,59.9 L244.26,59.57 L245.86,59.22 L247.39,58.89 L248.92,58.55 L250.45,58.21 L251.27,57.49 L252.09,56.78 M242.66,59.9 L242.63,61.94 L242.6,63.97 L242.97,65.52 L243.34,67.08 L243.72,68.63 L243.4,69.98 M242.6,63.97 L243.97,63.67 L245.33,63.37 L246.7,63.06 L248.07,62.75 L249.44,62.43 M249.44,62.43 L250.27,62.21 L251.11,61.99 L251.28,62.64 L252.1,63.62 L252.92,64.6 M249.44,62.43 L249.83,64.37 L250.23,66.3 M247.53,43.89 L248.27,46.01 L249,48.13 L249.61,50 L250.22,51.87 L250.68,53.2 L251.14,54.53 L252.25,55.51 M174.49,41.38 L173.67,43.38 L172.84,45.38 L172.52,47.15 L172.2,48.93 L173.69,49.87 L175.19,50.81 L176.54,51.17 L177.89,51.52 L179.24,51.86 L180.59,52.2 L182.18,54.26 L183.77,56.31 L185.35,56.26 L186.93,56.21 L188.51,56.14 L188.35,58.09 L188.19,60.04 L188.02,61.99 L187.88,64.16 L187.73,66.34 L187.58,68.51 L187.43,70.69 L187.63,72.73 L187.82,74.78 L188.73,74.69 M174.49,41.38 L173.42,42.42 L172.34,43.46 L171.26,44.5 L170.17,45.53 L168.68,46.44 L167.19,47.35 L165.69,48.25 L165.32,48.55 M184.25,70.92 L185.84,70.81 L187.43,70.69 M202.53,73.28 L203.59,71.88 M214.3,70.1 L213.96,68.05 M217.12,67.97 L216.85,66.42 M243.4,69.98 L244.84,69.28 L246.29,68.58 L247.43,68 L248.58,67.42 L249.4,66.86 L250.23,66.3 M237.31,79.36 L238.24,80.6 L239.14,81.7 L240.05,82.8 M236.1,89.15 L237.48,88.85 L238.87,88.55 M188.73,74.69 L190.37,74.53 L192.02,74.36 L193.67,74.18 L195.31,74 L196.96,73.81 M197,74.14 L198.38,73.93 L199.76,73.72 L201.15,73.5 L202.53,73.28 M196.96,74.15 L197.2,76.23 L197.44,78.3 L197.68,80.39 L197.92,82.47 L198.16,84.55 L198.4,86.63 L198.64,88.71 M185.72,74.97 L185.89,76.9 L186.06,78.84 L186.24,80.77 L186.41,82.71 L186.58,84.64 L186.75,86.57 L186.93,88.51 L186.89,89.79 L186.85,91.07 L187.48,93.28 L186.69,94.2 L185.9,95.12 L185.67,96.27 L185.44,97.42 M184.25,70.92 L182.79,71.04 L181.34,71.16 L179.88,71.27 L178.43,71.38 L176.97,71.48 L175.52,71.58 L174.06,71.67 L172.6,71.75" fill="none" stroke="#737373" stroke-width="0.8" stroke-linejoin="round"/>
</g>
<text x="9.9" y="141.7" font-size="8" fill="#231f20" font-weight="bold" textLength="68.2" lengthAdjust="spacingAndGlyphs" stroke="#231f20" stroke-width="0.17">Social Deprivation</text>
<text x="9.9" y="150.9" font-size="8" fill="#231f20" font-weight="bold" textLength="56.6" lengthAdjust="spacingAndGlyphs" stroke="#231f20" stroke-width="0.17">Index Quartiles</text>
<rect x="10" y="155.8" width="17.8" height="8.5" fill="#0b3a1e"/>
<rect x="10" y="164.3" width="17.8" height="8.7" fill="#138a45"/>
<rect x="10" y="173" width="17.8" height="8.7" fill="#35b86c"/>
<rect x="10" y="181.7" width="17.8" height="8.9" fill="#e4ebe4"/>
<text x="33.7" y="162.4" font-size="7.3" fill="#333" textLength="88.8" lengthAdjust="spacingAndGlyphs" stroke="#333" stroke-width="0.17">1 - 19 (Lowest deprivation)</text>
<text x="33.7" y="171.2" font-size="7.3" fill="#333" textLength="23.7" lengthAdjust="spacingAndGlyphs" stroke="#333" stroke-width="0.17">20 - 43</text>
<text x="33.7" y="179.8" font-size="7.3" fill="#333" textLength="23.7" lengthAdjust="spacingAndGlyphs" stroke="#333" stroke-width="0.17">44 - 65</text>
<text x="33.7" y="188.8" font-size="7.3" fill="#333" textLength="100.4" lengthAdjust="spacingAndGlyphs" stroke="#333" stroke-width="0.17">65 - 100 (Highest deprivation)</text>
<text x="33.7" y="197" font-size="7.3" fill="#333" textLength="176.1" lengthAdjust="spacingAndGlyphs" stroke="#333" stroke-width="0.17">Zip codes with no participants/suppressed zip codes</text>
<path d="M349.5,22 V126.4 H509.8" fill="none" stroke="#2a2a2a" stroke-width="1.3"/>
<text x="344.6" y="129.1" font-size="8" text-anchor="end" fill="#231f20" textLength="10.34" lengthAdjust="spacingAndGlyphs" stroke="#231f20" stroke-width="0.12">0.0</text>
<text x="344.6" y="109.14" font-size="8" text-anchor="end" fill="#231f20" textLength="10.34" lengthAdjust="spacingAndGlyphs" stroke="#231f20" stroke-width="0.12">0.2</text>
<text x="344.6" y="89.18" font-size="8" text-anchor="end" fill="#231f20" textLength="10.34" lengthAdjust="spacingAndGlyphs" stroke="#231f20" stroke-width="0.12">0.4</text>
<text x="344.6" y="69.22" font-size="8" text-anchor="end" fill="#231f20" textLength="10.34" lengthAdjust="spacingAndGlyphs" stroke="#231f20" stroke-width="0.12">0.6</text>
<text x="344.6" y="49.26" font-size="8" text-anchor="end" fill="#231f20" textLength="10.34" lengthAdjust="spacingAndGlyphs" stroke="#231f20" stroke-width="0.12">0.8</text>
<text x="344.6" y="29.3" font-size="8" text-anchor="end" fill="#231f20" textLength="10.34" lengthAdjust="spacingAndGlyphs" stroke="#231f20" stroke-width="0.12">1.0</text>
<text x="349.5" y="137.4" font-size="8" text-anchor="middle" fill="#231f20" textLength="4.14" lengthAdjust="spacingAndGlyphs" stroke="#231f20" stroke-width="0.12">0</text>
<text x="365.18" y="137.4" font-size="8" text-anchor="middle" fill="#231f20" textLength="4.14" lengthAdjust="spacingAndGlyphs" stroke="#231f20" stroke-width="0.12">1</text>
<text x="380.86" y="137.4" font-size="8" text-anchor="middle" fill="#231f20" textLength="4.14" lengthAdjust="spacingAndGlyphs" stroke="#231f20" stroke-width="0.12">2</text>
<text x="396.54" y="137.4" font-size="8" text-anchor="middle" fill="#231f20" textLength="4.14" lengthAdjust="spacingAndGlyphs" stroke="#231f20" stroke-width="0.12">3</text>
<text x="412.22" y="137.4" font-size="8" text-anchor="middle" fill="#231f20" textLength="4.14" lengthAdjust="spacingAndGlyphs" stroke="#231f20" stroke-width="0.12">4</text>
<text x="427.9" y="137.4" font-size="8" text-anchor="middle" fill="#231f20" textLength="4.14" lengthAdjust="spacingAndGlyphs" stroke="#231f20" stroke-width="0.12">5</text>
<text x="443.58" y="137.4" font-size="8" text-anchor="middle" fill="#231f20" textLength="4.14" lengthAdjust="spacingAndGlyphs" stroke="#231f20" stroke-width="0.12">6</text>
<text x="459.26" y="137.4" font-size="8" text-anchor="middle" fill="#231f20" textLength="4.14" lengthAdjust="spacingAndGlyphs" stroke="#231f20" stroke-width="0.12">7</text>
<text x="474.94" y="137.4" font-size="8" text-anchor="middle" fill="#231f20" textLength="4.14" lengthAdjust="spacingAndGlyphs" stroke="#231f20" stroke-width="0.12">8</text>
<text x="490.62" y="137.4" font-size="8" text-anchor="middle" fill="#231f20" textLength="4.14" lengthAdjust="spacingAndGlyphs" stroke="#231f20" stroke-width="0.12">9</text>
<text x="506.3" y="137.4" font-size="8" text-anchor="middle" fill="#231f20" textLength="8.28" lengthAdjust="spacingAndGlyphs" stroke="#231f20" stroke-width="0.12">10</text>
<path d="M346.5,126.4 H349.5 M346.5,106.44 H349.5 M346.5,86.48 H349.5 M346.5,66.52 H349.5 M346.5,46.56 H349.5 M346.5,26.6 H349.5 M349.5,126.4 V128.9 M365.18,126.4 V128.9 M380.86,126.4 V128.9 M396.54,126.4 V128.9 M412.22,126.4 V128.9 M427.9,126.4 V128.9 M443.58,126.4 V128.9 M459.26,126.4 V128.9 M474.94,126.4 V128.9 M490.62,126.4 V128.9 M506.3,126.4 V128.9" stroke="#231f20" stroke-width="0.9"/>
<text x="420.4" y="146.9" font-size="8.8" fill="#231f20" textLength="14.6" lengthAdjust="spacingAndGlyphs" stroke="#231f20" stroke-width="0.45">Years</text>
<text x="0" y="0" font-size="9.2" fill="#231f20" stroke="#231f20" stroke-width="0.45" textLength="41.8" lengthAdjust="spacingAndGlyphs" transform="translate(330.6,94.7) rotate(-90)">Overall survival</text>
<path d="M349.5,26.6 L349.63,26.6 L349.63,26.97 L349.81,26.97 L349.81,27.34 L350,27.34 L350,27.72 L350.18,27.72 L350.18,28.09 L350.36,28.09 L350.36,28.46 L350.54,28.46 L350.54,28.83 L350.73,28.83 L350.73,29.2 L350.91,29.2 L350.91,29.57 L351.09,29.57 L351.09,29.94 L351.27,29.94 L351.27,30.31 L351.46,30.31 L351.46,30.69 L351.64,30.69 L351.64,31.06 L351.82,31.06 L351.82,31.43 L352.19,31.43 L352.19,31.81 L352.58,31.81 L352.58,32.18 L352.97,32.18 L352.97,32.56 L353.36,32.56 L353.36,32.93 L353.78,32.93 L353.78,33.32 L354.27,33.32 L354.27,33.7 L354.77,33.7 L354.77,34.09 L355.26,34.09 L355.26,34.47 L355.76,34.47 L355.76,34.85 L356.1,34.85 L356.1,35.22 L356.39,35.22 L356.39,35.63 L356.67,35.63 L356.67,36.04 L356.96,36.04 L356.96,36.44 L357.25,36.44 L357.25,36.85 L357.53,36.85 L357.53,37.25 L357.82,37.25 L357.82,37.66 L358.11,37.66 L358.11,38.07 L358.4,38.07 L358.4,38.47 L358.68,38.47 L358.68,38.88 L358.94,38.88 L358.94,39.29 L359.18,39.29 L359.18,39.67 L359.41,39.67 L359.41,40.05 L359.65,40.05 L359.65,40.44 L359.88,40.44 L359.88,40.82 L360.12,40.82 L360.12,41.2 L360.35,41.2 L360.35,41.59 L360.59,41.59 L360.59,41.97 L360.82,41.97 L360.82,42.35 L361.06,42.35 L361.06,42.73 L361.29,42.73 L361.29,43.15 L361.45,43.15 L361.45,43.57 L361.6,43.57 L361.6,43.98 L361.76,43.98 L361.76,44.4 L361.92,44.4 L361.92,44.81 L362.07,44.81 L362.07,45.23 L362.23,45.23 L362.23,45.65 L362.39,45.65 L362.39,46.06 L362.54,46.06 L362.54,46.48 L362.7,46.48 L362.7,46.9 L362.86,46.9 L362.86,47.31 L363.01,47.31 L363.01,47.69 L363.3,47.69 L363.3,48.08 L363.59,48.08 L363.59,48.46 L363.87,48.46 L363.87,48.84 L364.16,48.84 L364.16,49.22 L364.45,49.22 L364.45,49.6 L364.73,49.6 L364.73,49.99 L365.02,49.99 L365.02,50.37 L365.31,50.37 L365.31,50.76 L365.59,50.76 L365.59,51.15 L365.88,51.15 L365.88,51.54 L366.04,51.54 L366.04,51.93 L366.14,51.93 L366.14,52.32 L366.25,52.32 L366.25,52.7 L366.35,52.7 L366.35,53.09 L366.46,53.09 L366.46,53.48 L366.56,53.48 L366.56,53.87 L366.66,53.87 L366.66,54.26 L366.77,54.26 L366.77,54.65 L366.87,54.65 L366.87,55.04 L366.98,55.04 L366.98,55.43 L367.08,55.43 L367.08,55.81 L367.21,55.81 L367.21,56.22 L367.34,56.22 L367.34,56.64 L367.47,56.64 L367.47,57.05 L367.6,57.05 L367.6,57.47 L367.73,57.47 L367.73,57.88 L367.86,57.88 L367.86,58.3 L367.99,58.3 L367.99,58.71 L368.12,58.71 L368.12,59.13 L368.44,59.13 L368.44,59.52 L368.83,59.52 L368.83,59.91 L369.22,59.91 L369.22,60.31 L369.61,60.31 L369.61,60.71 L370,60.71 L370,61.1 L370.39,61.1 L370.39,61.5 L370.79,61.5 L370.79,61.89 L371.18,61.89 L371.18,62.29 L371.57,62.29 L371.57,62.69 L372.06,62.69 L372.06,63.07 L372.59,63.07 L372.59,63.45 L373.11,63.45 L373.11,63.84 L373.63,63.84 L373.63,64.23 L374.15,64.23 L374.15,64.62 L374.67,64.62 L374.67,65 L375.19,65 L375.19,65.39 L375.72,65.39 L375.72,65.78 L376.24,65.78 L376.24,66.16 L376.84,66.16 L376.84,66.54 L377.46,66.54 L377.46,66.93 L378.09,66.93 L378.09,67.31 L378.72,67.31 L378.72,67.7 L379.34,67.7 L379.34,68.08 L379.97,68.08 L379.97,68.47 L380.59,68.47 L380.59,68.85 L381.27,68.85 L381.27,69.22 L382,69.22 L382,69.6 L382.73,69.6 L382.73,69.97 L383.41,69.97 L383.41,70.35 L383.98,70.35 L383.98,70.73 L384.56,70.73 L384.56,71.11 L385.13,71.11 L385.13,71.49 L385.71,71.49 L385.71,71.87 L386.28,71.87 L386.28,72.25 L387.01,72.25 L387.01,72.63 L388.05,72.63 L388.05,73.01 L389.1,73.01 L389.1,73.39 L390.14,73.39 L390.14,73.76 L391.18,73.76 L391.18,74.14 L392.23,74.14 L392.23,74.51 L393.27,74.51 L393.27,74.89 L394.31,74.89 L394.31,75.27 L395.54,75.27 L395.54,75.64 L397.08,75.64 L397.08,76.01 L398.62,76.01 L398.62,76.38 L403.03,76.38 L403.03,76.75 L412.63,76.75 L412.63,77.12 L414.84,77.12 L414.84,77.52 L415.16,77.52 L415.16,77.9 L415.47,77.9 L415.47,78.27 L415.78,78.27 L415.78,78.64 L422.15,78.64 L422.15,79.02 L429.48,79.02 L429.48,79.39 L431.72,79.39 L431.72,79.76 L434.36,79.76 L434.36,80.13 L437.8,80.13 L437.8,80.5 L441.24,80.5 L441.24,80.88 L445.23,80.88 L445.23,81.25 L449.25,81.25 L449.25,81.62 L495.45,81.62 L495.45,82 L495.87,82 L495.87,82.39 L496.28,82.39 L496.28,82.78 L496.7,82.78 L496.7,83.16 L498.47,83.16 L498.47,83.53 L505.83,83.53 L505.83,83.79 L505.99,83.79" fill="none" stroke="#26538a" stroke-width="1"/>
<path d="M349.5,26.6 L349.55,26.6 L349.55,26.77 L349.6,26.77 L349.6,26.92 L349.68,26.92 L349.68,27.07 L349.76,27.07 L349.76,27.23 L349.84,27.23 L349.84,27.38 L349.92,27.38 L349.92,27.53 L350,27.53 L350,27.68 L350.07,27.68 L350.07,27.84 L350.15,27.84 L350.15,27.99 L350.23,27.99 L350.23,28.14 L350.31,28.14 L350.31,28.3 L350.39,28.3 L350.39,28.45 L350.47,28.45 L350.47,28.6 L350.54,28.6 L350.54,28.75 L350.62,28.75 L350.62,28.91 L350.7,28.91 L350.7,29.06 L350.78,29.06 L350.78,29.21 L350.86,29.21 L350.86,29.37 L350.93,29.37 L350.93,29.52 L351.01,29.52 L351.01,29.67 L351.09,29.67 L351.09,29.82 L351.17,29.82 L351.17,29.98 L351.25,29.98 L351.25,30.13 L351.33,30.13 L351.33,30.28 L351.4,30.28 L351.4,30.44 L351.48,30.44 L351.48,30.61 L351.56,30.61 L351.56,30.78 L351.64,30.78 L351.64,30.95 L351.72,30.95 L351.72,31.12 L351.8,31.12 L351.8,31.29 L351.87,31.29 L351.87,31.46 L351.95,31.46 L351.95,31.63 L352.03,31.63 L352.03,31.8 L352.11,31.8 L352.11,31.97 L352.19,31.97 L352.19,32.14 L352.27,32.14 L352.27,32.31 L352.34,32.31 L352.34,32.48 L352.42,32.48 L352.42,32.65 L352.5,32.65 L352.5,32.82 L352.58,32.82 L352.58,32.99 L352.66,32.99 L352.66,33.16 L352.73,33.16 L352.73,33.33 L352.81,33.33 L352.81,33.5 L352.89,33.5 L352.89,33.67 L352.97,33.67 L352.97,33.84 L353.05,33.84 L353.05,34.01 L353.13,34.01 L353.13,34.18 L353.2,34.18 L353.2,34.35 L353.28,34.35 L353.28,34.52 L353.36,34.52 L353.36,34.69 L353.44,34.69 L353.44,34.86 L353.52,34.86 L353.52,35.03 L353.6,35.03 L353.6,35.2 L353.67,35.2 L353.67,35.37 L353.75,35.37 L353.75,35.54 L353.83,35.54 L353.83,35.71 L353.91,35.71 L353.91,35.88 L353.99,35.88 L353.99,36.05 L354.06,36.05 L354.06,36.21 L354.14,36.21 L354.14,36.36 L354.22,36.36 L354.22,36.51 L354.3,36.51 L354.3,36.66 L354.38,36.66 L354.38,36.81 L354.46,36.81 L354.46,36.96 L354.53,36.96 L354.53,37.11 L354.61,37.11 L354.61,37.26 L354.69,37.26 L354.69,37.41 L354.77,37.41 L354.77,37.56 L354.85,37.56 L354.85,37.71 L354.93,37.71 L354.93,37.86 L355,37.86 L355,38.01 L355.08,38.01 L355.08,38.16 L355.16,38.16 L355.16,38.31 L355.24,38.31 L355.24,38.46 L355.32,38.46 L355.32,38.61 L355.4,38.61 L355.4,38.75 L355.47,38.75 L355.47,38.9 L355.55,38.9 L355.55,39.05 L355.63,39.05 L355.63,39.2 L355.71,39.2 L355.71,39.35 L355.79,39.35 L355.79,39.5 L355.86,39.5 L355.86,39.65 L355.94,39.65 L355.94,39.8 L356.02,39.8 L356.02,39.95 L356.1,39.95 L356.1,40.1 L356.18,40.1 L356.18,40.25 L356.26,40.25 L356.26,40.4 L356.33,40.4 L356.33,40.55 L356.41,40.55 L356.41,40.7 L356.49,40.7 L356.49,40.85 L356.57,40.85 L356.57,41 L356.65,41 L356.65,41.15 L356.73,41.15 L356.73,41.3 L356.8,41.3 L356.8,41.44 L356.88,41.44 L356.88,41.59 L356.96,41.59 L356.96,41.74 L357.04,41.74 L357.04,41.89 L357.12,41.89 L357.12,42.05 L357.2,42.05 L357.2,42.2 L357.27,42.2 L357.27,42.35 L357.35,42.35 L357.35,42.5 L357.43,42.5 L357.43,42.65 L357.51,42.65 L357.51,42.81 L357.59,42.81 L357.59,42.96 L357.66,42.96 L357.66,43.11 L357.74,43.11 L357.74,43.26 L357.82,43.26 L357.82,43.41 L357.9,43.41 L357.9,43.57 L357.98,43.57 L357.98,43.72 L358.06,43.72 L358.06,43.87 L358.13,43.87 L358.13,44.02 L358.21,44.02 L358.21,44.17 L358.29,44.17 L358.29,44.33 L358.37,44.33 L358.37,44.48 L358.45,44.48 L358.45,44.63 L358.53,44.63 L358.53,44.78 L358.6,44.78 L358.6,44.93 L358.68,44.93 L358.68,45.09 L358.76,45.09 L358.76,45.24 L358.84,45.24 L358.84,45.39 L358.92,45.39 L358.92,45.54 L359,45.54 L359,45.69 L359.07,45.69 L359.07,45.85 L359.15,45.85 L359.15,46 L359.23,46 L359.23,46.15 L359.31,46.15 L359.31,46.3 L359.39,46.3 L359.39,46.45 L359.46,46.45 L359.46,46.61 L359.54,46.61 L359.54,46.76 L359.62,46.76 L359.62,46.91 L359.7,46.91 L359.7,47.06 L359.78,47.06 L359.78,47.21 L359.86,47.21 L359.86,47.37 L359.93,47.37 L359.93,47.52 L360.01,47.52 L360.01,47.67 L360.09,47.67 L360.09,47.83 L360.17,47.83 L360.17,47.98 L360.25,47.98 L360.25,48.14 L360.33,48.14 L360.33,48.3 L360.4,48.3 L360.4,48.45 L360.48,48.45 L360.48,48.61 L360.56,48.61 L360.56,48.76 L360.64,48.76 L360.64,48.92 L360.72,48.92 L360.72,49.08 L360.79,49.08 L360.79,49.23 L360.87,49.23 L360.87,49.39 L360.95,49.39 L360.95,49.55 L361.03,49.55 L361.03,49.7 L361.11,49.7 L361.11,49.86 L361.19,49.86 L361.19,50.01 L361.26,50.01 L361.26,50.17 L361.34,50.17 L361.34,50.33 L361.42,50.33 L361.42,50.48 L361.5,50.48 L361.5,50.64 L361.58,50.64 L361.58,50.8 L361.66,50.8 L361.66,50.95 L361.73,50.95 L361.73,51.11 L361.81,51.11 L361.81,51.26 L361.89,51.26 L361.89,51.42 L361.97,51.42 L361.97,51.58 L362.05,51.58 L362.05,51.73 L362.13,51.73 L362.13,51.89 L362.2,51.89 L362.2,52.05 L362.28,52.05 L362.28,52.2 L362.36,52.2 L362.36,52.36 L362.44,52.36 L362.44,52.51 L362.52,52.51 L362.52,52.67 L362.59,52.67 L362.59,52.83 L362.67,52.83 L362.67,52.98 L362.75,52.98 L362.75,53.14 L362.83,53.14 L362.83,53.3 L362.91,53.3 L362.91,53.45 L362.99,53.45 L362.99,53.61 L363.06,53.61 L363.06,53.76 L363.14,53.76 L363.14,53.92 L363.22,53.92 L363.22,54.08 L363.3,54.08 L363.3,54.23 L363.38,54.23 L363.38,54.39 L363.46,54.39 L363.46,54.54 L363.56,54.54 L363.56,54.7 L363.66,54.7 L363.66,54.86 L363.77,54.86 L363.77,55.02 L363.87,55.02 L363.87,55.17 L363.98,55.17 L363.98,55.33 L364.08,55.33 L364.08,55.49 L364.19,55.49 L364.19,55.64 L364.29,55.64 L364.29,55.8 L364.39,55.8 L364.39,55.96 L364.5,55.96 L364.5,56.11 L364.6,56.11 L364.6,56.27 L364.71,56.27 L364.71,56.43 L364.81,56.43 L364.81,56.59 L364.92,56.59 L364.92,56.74 L365.02,56.74 L365.02,56.9 L365.13,56.9 L365.13,57.06 L365.23,57.06 L365.23,57.21 L365.33,57.21 L365.33,57.37 L365.44,57.37 L365.44,57.53 L365.54,57.53 L365.54,57.68 L365.65,57.68 L365.65,57.84 L365.75,57.84 L365.75,58 L365.86,58 L365.86,58.16 L365.96,58.16 L365.96,58.31 L366.06,58.31 L366.06,58.47 L366.17,58.47 L366.17,58.63 L366.27,58.63 L366.27,58.78 L366.38,58.78 L366.38,58.94 L366.48,58.94 L366.48,59.1 L366.59,59.1 L366.59,59.25 L366.69,59.25 L366.69,59.41 L366.79,59.41 L366.79,59.57 L366.9,59.57 L366.9,59.72 L367,59.72 L367,59.86 L367.11,59.86 L367.11,60 L367.21,60 L367.21,60.14 L367.32,60.14 L367.32,60.28 L367.42,60.28 L367.42,60.42 L367.53,60.42 L367.53,60.56 L367.63,60.56 L367.63,60.7 L367.73,60.7 L367.73,60.84 L367.84,60.84 L367.84,60.98 L367.94,60.98 L367.94,61.11 L368.05,61.11 L368.05,61.25 L368.15,61.25 L368.15,61.39 L368.26,61.39 L368.26,61.53 L368.36,61.53 L368.36,61.67 L368.46,61.67 L368.46,61.81 L368.57,61.81 L368.57,61.95 L368.67,61.95 L368.67,62.09 L368.78,62.09 L368.78,62.23 L368.88,62.23 L368.88,62.36 L368.99,62.36 L368.99,62.5 L369.09,62.5 L369.09,62.64 L369.19,62.64 L369.19,62.78 L369.3,62.78 L369.3,62.92 L369.4,62.92 L369.4,63.06 L369.51,63.06 L369.51,63.2 L369.61,63.2 L369.61,63.34 L369.72,63.34 L369.72,63.48 L369.82,63.48 L369.82,63.61 L369.92,63.61 L369.92,63.75 L370.03,63.75 L370.03,63.89 L370.13,63.89 L370.13,64.03 L370.24,64.03 L370.24,64.17 L370.34,64.17 L370.34,64.31 L370.45,64.31 L370.45,64.45 L370.55,64.45 L370.55,64.59 L370.66,64.59 L370.66,64.72 L370.76,64.72 L370.76,64.86 L370.86,64.86 L370.86,65 L370.97,65 L370.97,65.14 L371.07,65.14 L371.07,65.28 L371.18,65.28 L371.18,65.42 L371.28,65.42 L371.28,65.56 L371.39,65.56 L371.39,65.7 L371.49,65.7 L371.49,65.84 L371.59,65.84 L371.59,65.97 L371.7,65.97 L371.7,66.11 L371.8,66.11 L371.8,66.25 L371.91,66.25 L371.91,66.39 L372.01,66.39 L372.01,66.53 L372.12,66.53 L372.12,66.67 L372.22,66.67 L372.22,66.81 L372.32,66.81 L372.32,66.95 L372.43,66.95 L372.43,67.09 L372.53,67.09 L372.53,67.22 L372.64,67.22 L372.64,67.36 L372.74,67.36 L372.74,67.5 L372.85,67.5 L372.85,67.64 L372.95,67.64 L372.95,67.78 L373.06,67.78 L373.06,67.92 L373.16,67.92 L373.16,68.06 L373.26,68.06 L373.26,68.2 L373.37,68.2 L373.37,68.34 L373.47,68.34 L373.47,68.47 L373.58,68.47 L373.58,68.61 L373.68,68.61 L373.68,68.75 L373.79,68.75 L373.79,68.89 L373.89,68.89 L373.89,69.02 L374.02,69.02 L374.02,69.17 L374.15,69.17 L374.15,69.33 L374.28,69.33 L374.28,69.48 L374.41,69.48 L374.41,69.64 L374.54,69.64 L374.54,69.79 L374.67,69.79 L374.67,69.95 L374.8,69.95 L374.8,70.1 L374.93,70.1 L374.93,70.25 L375.06,70.25 L375.06,70.41 L375.19,70.41 L375.19,70.56 L375.32,70.56 L375.32,70.72 L375.45,70.72 L375.45,70.87 L375.59,70.87 L375.59,71.03 L375.72,71.03 L375.72,71.18 L375.85,71.18 L375.85,71.34 L375.98,71.34 L375.98,71.49 L376.11,71.49 L376.11,71.65 L376.24,71.65 L376.24,71.8 L376.37,71.8 L376.37,71.96 L376.5,71.96 L376.5,72.11 L376.63,72.11 L376.63,72.27 L376.76,72.27 L376.76,72.42 L376.89,72.42 L376.89,72.58 L377.02,72.58 L377.02,72.73 L377.15,72.73 L377.15,72.88 L377.28,72.88 L377.28,73.03 L377.46,73.03 L377.46,73.16 L377.65,73.16 L377.65,73.29 L377.83,73.29 L377.83,73.42 L378.01,73.42 L378.01,73.55 L378.19,73.55 L378.19,73.69 L378.38,73.69 L378.38,73.82 L378.56,73.82 L378.56,73.95 L378.74,73.95 L378.74,74.08 L378.92,74.08 L378.92,74.21 L379.11,74.21 L379.11,74.34 L379.29,74.34 L379.29,74.48 L379.47,74.48 L379.47,74.61 L379.65,74.61 L379.65,74.74 L379.84,74.74 L379.84,74.87 L380.02,74.87 L380.02,75 L380.2,75 L380.2,75.13 L380.39,75.13 L380.39,75.27 L380.57,75.27 L380.57,75.4 L380.75,75.4 L380.75,75.53 L380.93,75.53 L380.93,75.66 L381.12,75.66 L381.12,75.79 L381.3,75.79 L381.3,75.92 L381.48,75.92 L381.48,76.06 L381.66,76.06 L381.66,76.19 L381.85,76.19 L381.85,76.32 L382.03,76.32 L382.03,76.45 L382.24,76.45 L382.24,76.58 L382.45,76.58 L382.45,76.71 L382.65,76.71 L382.65,76.84 L382.86,76.84 L382.86,76.98 L383.07,76.98 L383.07,77.11 L383.28,77.11 L383.28,77.24 L383.49,77.24 L383.49,77.38 L383.7,77.38 L383.7,77.51 L383.91,77.51 L383.91,77.64 L384.12,77.64 L384.12,77.77 L384.32,77.77 L384.32,77.91 L384.53,77.91 L384.53,78.04 L384.74,78.04 L384.74,78.17 L384.95,78.17 L384.95,78.3 L385.16,78.3 L385.16,78.44 L385.37,78.44 L385.37,78.57 L385.58,78.57 L385.58,78.7 L385.78,78.7 L385.78,78.84 L385.99,78.84 L385.99,78.97 L386.2,78.97 L386.2,79.1 L386.41,79.1 L386.41,79.23 L386.62,79.23 L386.62,79.36 L386.85,79.36 L386.85,79.5 L387.09,79.5 L387.09,79.64 L387.32,79.64 L387.32,79.77 L387.56,79.77 L387.56,79.91 L387.79,79.91 L387.79,80.05 L388.03,80.05 L388.03,80.18 L388.26,80.18 L388.26,80.32 L388.5,80.32 L388.5,80.46 L388.73,80.46 L388.73,80.59 L388.97,80.59 L388.97,80.73 L389.2,80.73 L389.2,80.87 L389.44,80.87 L389.44,81.01 L389.67,81.01 L389.67,81.14 L389.91,81.14 L389.91,81.28 L390.14,81.28 L390.14,81.42 L390.45,81.42 L390.45,81.55 L390.9,81.55 L390.9,81.68 L391.34,81.68 L391.34,81.81 L391.78,81.81 L391.78,81.94 L392.23,81.94 L392.23,82.07 L392.67,82.07 L392.67,82.2 L393.11,82.2 L393.11,82.34 L393.56,82.34 L393.56,82.47 L394,82.47 L394,82.6 L394.45,82.6 L394.45,82.73 L394.89,82.73 L394.89,82.86 L395.44,82.86 L395.44,82.99 L396.04,82.99 L396.04,83.12 L396.64,83.12 L396.64,83.25 L397.24,83.25 L397.24,83.38 L397.84,83.38 L397.84,83.51 L398.44,83.51 L398.44,83.64 L399.04,83.64 L399.04,83.77 L399.64,83.77 L399.64,83.9 L400.24,83.9 L400.24,84.03 L400.84,84.03 L400.84,84.16 L401.44,84.16 L401.44,84.29 L402.11,84.29 L402.11,84.42 L403.05,84.42 L403.05,84.54 L403.99,84.54 L403.99,84.67 L404.93,84.67 L404.93,84.8 L405.87,84.8 L405.87,84.92 L406.81,84.92 L406.81,85.05 L407.75,85.05 L407.75,85.18 L408.69,85.18 L408.69,85.3 L409.63,85.3 L409.63,85.43 L410.57,85.43 L410.57,85.56 L411.51,85.56 L411.51,85.68 L412.42,85.68 L412.42,85.81 L413.28,85.81 L413.28,85.94 L414.14,85.94 L414.14,86.07 L415,86.07 L415,86.19 L415.86,86.19 L415.86,86.32 L416.72,86.32 L416.72,86.45 L417.58,86.45 L417.58,86.58 L418.44,86.58 L418.44,86.7 L419.3,86.7 L419.3,86.83 L420.17,86.83 L420.17,86.96 L421.03,86.96 L421.03,87.09 L421.89,87.09 L421.89,87.21 L422.75,87.21 L422.75,87.34 L423.61,87.34 L423.61,87.47 L424.26,87.47 L424.26,87.6 L424.89,87.6 L424.89,87.72 L425.51,87.72 L425.51,87.85 L426.14,87.85 L426.14,87.97 L426.76,87.97 L426.76,88.1 L427.39,88.1 L427.39,88.23 L428.02,88.23 L428.02,88.35 L428.64,88.35 L428.64,88.48 L429.27,88.48 L429.27,88.6 L431.62,88.6 L431.62,88.73 L436.26,88.73 L436.26,88.85 L440.9,88.85 L440.9,88.98 L445.55,88.98 L445.55,89.1 L448.62,89.1 L448.62,89.23 L449.72,89.23 L449.72,89.36 L450.82,89.36 L450.82,89.49 L451.91,89.49 L451.91,89.61 L453.01,89.61 L453.01,89.74 L454.1,89.74 L454.1,89.87 L455.15,89.87 L455.15,89.99 L455.88,89.99 L455.88,90.12 L456.61,90.12 L456.61,90.25 L457.34,90.25 L457.34,90.37 L458.07,90.37 L458.07,90.5 L458.8,90.5 L458.8,90.63 L459.53,90.63 L459.53,90.75 L460.26,90.75 L460.26,90.88 L460.99,90.88 L460.99,91.01 L461.72,91.01 L461.72,91.13 L463.13,91.13 L463.13,91.26 L464.8,91.26 L464.8,91.39 L466.47,91.39 L466.47,91.51 L468.14,91.51 L468.14,91.64 L469.81,91.64 L469.81,91.76 L471.48,91.76 L471.48,91.89 L473.14,91.89 L473.14,92.02 L474.58,92.02 L474.58,92.14 L475.83,92.14 L475.83,92.27 L477.08,92.27 L477.08,92.39 L478.34,92.39 L478.34,92.52 L479.59,92.52 L479.59,92.65 L480.84,92.65 L480.84,92.77 L482.09,92.77 L482.09,92.9 L483.34,92.9 L483.34,93.02 L484.6,93.02 L484.6,93.15 L485.85,93.15 L485.85,93.28 L486.94,93.28 L486.94,93.4 L488.04,93.4 L488.04,93.53 L489.14,93.53 L489.14,93.65 L490.23,93.65 L490.23,93.78 L491.33,93.78 L491.33,93.91 L492.42,93.91 L492.42,94.03 L493.52,94.03 L493.52,94.16 L494.61,94.16 L494.61,94.28 L495.84,94.28 L495.84,94.41 L497.33,94.41 L497.33,94.53 L498.81,94.53 L498.81,94.66 L500.3,94.66 L500.3,94.78 L501.79,94.78 L501.79,94.91 L503.27,94.91 L503.27,95.03 L504.76,95.03 L504.76,95.16 L505.83,95.16 L505.83,95.26 L505.99,95.26" fill="none" stroke="#e4402a" stroke-width="1"/>
<path d="M374.5,67.69 V71.89 M387.5,77.54 V81.74 M391.5,79.84 V84.04 M395.5,80.89 V85.09 M395.5,80.89 V85.09 M396.5,81.02 V85.22 M396.5,81.15 V85.35 M397.5,81.28 V85.48 M399.5,81.8 V86 M402.5,82.32 V86.52 M403.5,82.44 V86.64 M404.5,82.57 V86.77 M404.5,82.7 V86.9 M406.5,82.95 V87.15 M407.5,82.95 V87.15 M408.5,83.08 V87.28 M408.5,83.2 V87.4 M409.5,83.2 V87.4 M411.5,83.46 V87.66 M412.5,83.58 V87.78 M412.5,83.71 V87.91 M413.5,83.71 V87.91 M413.5,83.84 V88.04 M414.5,83.84 V88.04 M415.5,84.22 V88.42 M417.5,84.48 V88.68 M418.5,84.48 V88.68 M421.5,84.99 V89.19 M422.5,85.24 V89.44 M424.5,85.5 V89.7 M424.5,85.5 V89.7 M424.5,85.62 V89.82 M426.5,85.87 V90.07 M427.5,86 V90.2 M427.5,86.13 V90.33 M427.5,86.13 V90.33 M428.5,86.25 V90.45 M428.5,86.25 V90.45 M428.5,86.25 V90.45 M428.5,86.38 V90.58 M429.5,86.5 V90.7 M430.5,86.5 V90.7 M431.5,86.5 V90.7 M432.5,86.63 V90.83 M432.5,86.63 V90.83 M432.5,86.63 V90.83 M433.5,86.63 V90.83 M434.5,86.63 V90.83 M434.5,86.63 V90.83 M434.5,86.63 V90.83 M435.5,86.63 V90.83 M435.5,86.63 V90.83 M435.5,86.63 V90.83 M436.5,86.63 V90.83 M436.5,86.75 V90.95 M436.5,86.75 V90.95 M437.5,86.75 V90.95 M438.5,86.75 V90.95 M438.5,86.75 V90.95 M438.5,86.75 V90.95 M439.5,86.75 V90.95 M439.5,86.75 V90.95 M440.5,86.75 V90.95 M440.5,86.75 V90.95 M440.5,86.88 V91.08 M441.5,86.88 V91.08 M441.5,86.88 V91.08 M443.5,86.88 V91.08 M443.5,86.88 V91.08 M444.5,86.88 V91.08 M444.5,86.88 V91.08 M444.5,86.88 V91.08 M445.5,86.88 V91.08 M445.5,87 V91.2 M446.5,87 V91.2 M446.5,87 V91.2 M446.5,87 V91.2 M448.5,87 V91.2 M448.5,87 V91.2 M450.5,87.26 V91.46 M450.5,87.26 V91.46 M451.5,87.39 V91.59 M451.5,87.39 V91.59 M452.5,87.51 V91.71 M452.5,87.51 V91.71 M453.5,87.64 V91.84 M453.5,87.64 V91.84 M453.5,87.64 V91.84 M454.5,87.77 V91.97 M454.5,87.77 V91.97 M455.5,87.77 V91.97 M455.5,87.89 V92.09 M455.5,87.89 V92.09 M455.5,87.89 V92.09 M455.5,87.89 V92.09 M456.5,88.02 V92.22 M457.5,88.27 V92.47 M458.5,88.4 V92.6 M459.5,88.53 V92.73 M459.5,88.53 V92.73 M460.5,88.78 V92.98 M461.5,88.91 V93.11 M461.5,88.91 V93.11 M463.5,89.03 V93.23 M463.5,89.16 V93.36 M463.5,89.16 V93.36 M464.5,89.16 V93.36 M464.5,89.16 V93.36 M465.5,89.29 V93.49 M465.5,89.29 V93.49 M466.5,89.29 V93.49 M466.5,89.29 V93.49 M466.5,89.41 V93.61 M466.5,89.41 V93.61 M467.5,89.41 V93.61 M467.5,89.41 V93.61 M467.5,89.41 V93.61 M467.5,89.41 V93.61 M468.5,89.41 V93.61 M468.5,89.54 V93.74 M468.5,89.54 V93.74 M468.5,89.54 V93.74 M468.5,89.54 V93.74 M469.5,89.54 V93.74 M469.5,89.54 V93.74 M470.5,89.66 V93.86 M471.5,89.66 V93.86 M472.5,89.79 V93.99 M472.5,89.79 V93.99 M473.5,89.92 V94.12 M474.5,89.92 V94.12 M475.5,90.04 V94.24 M475.5,90.04 V94.24 M475.5,90.04 V94.24 M476.5,90.17 V94.37 M476.5,90.17 V94.37 M476.5,90.17 V94.37 M477.5,90.29 V94.49 M477.5,90.29 V94.49 M477.5,90.29 V94.49 M477.5,90.29 V94.49 M477.5,90.29 V94.49 M477.5,90.29 V94.49 M478.5,90.29 V94.49 M478.5,90.42 V94.62 M479.5,90.42 V94.62 M480.5,90.55 V94.75 M480.5,90.55 V94.75 M480.5,90.55 V94.75 M480.5,90.55 V94.75 M481.5,90.67 V94.87 M482.5,90.8 V95 M482.5,90.8 V95 M482.5,90.8 V95 M483.5,90.92 V95.12 M483.5,90.92 V95.12 M484.5,90.92 V95.12 M485.5,91.05 V95.25 M485.5,91.05 V95.25 M485.5,91.05 V95.25 M486.5,91.18 V95.38 M486.5,91.18 V95.38 M487.5,91.3 V95.5 M487.5,91.3 V95.5 M487.5,91.3 V95.5 M488.5,91.43 V95.63 M488.5,91.43 V95.63 M488.5,91.43 V95.63 M488.5,91.43 V95.63 M488.5,91.43 V95.63 M490.5,91.55 V95.75 M492.5,91.81 V96.01 M492.5,91.93 V96.13 M492.5,91.93 V96.13 M493.5,91.93 V96.13 M493.5,92.06 V96.26 M494.5,92.18 V96.38 M494.5,92.18 V96.38 M495.5,92.18 V96.38 M495.5,92.18 V96.38 M496.5,92.31 V96.51 M497.5,92.43 V96.63 M497.5,92.43 V96.63 M497.5,92.43 V96.63 M499.5,92.56 V96.76 M499.5,92.56 V96.76 M499.5,92.56 V96.76 M501.5,92.68 V96.88 M504.5,92.93 V97.13 M504.5,92.93 V97.13 M505.5,93.06 V97.26 M505.5,93.16 V97.36 M506.5,93.16 V97.36" stroke="#e4402a" stroke-width="1"/>
<path d="M371.5,60.79 V64.59 M383.5,68.07 V71.87 M397.5,74.11 V77.91 M399.5,74.48 V78.28 M401.5,74.48 V78.28 M415.5,76.74 V80.54 M417.5,76.74 V80.54 M419.5,76.74 V80.54 M421.5,76.74 V80.54 M422.5,77.12 V80.92 M424.5,77.12 V80.92 M426.5,77.12 V80.92 M428.5,77.12 V80.92 M430.5,77.49 V81.29 M431.5,77.86 V81.66 M434.5,78.23 V82.03 M437.5,78.23 V82.03 M439.5,78.6 V82.4 M441.5,78.6 V82.4 M443.5,78.98 V82.78 M445.5,79.35 V83.15 M448.5,79.35 V83.15 M450.5,79.72 V83.52 M452.5,79.72 V83.52 M455.5,79.72 V83.52 M456.5,79.72 V83.52 M456.5,79.72 V83.52 M456.5,79.72 V83.52 M459.5,79.72 V83.52 M461.5,79.72 V83.52 M466.5,79.72 V83.52 M466.5,79.72 V83.52 M467.5,79.72 V83.52 M474.5,79.72 V83.52 M476.5,79.72 V83.52 M476.5,79.72 V83.52 M477.5,79.72 V83.52 M477.5,79.72 V83.52 M479.5,79.72 V83.52 M482.5,79.72 V83.52 M487.5,79.72 V83.52 M490.5,79.72 V83.52 M492.5,79.72 V83.52 M493.5,79.72 V83.52 M494.5,79.72 V83.52 M496.5,80.88 V84.68 M497.5,81.26 V85.06 M499.5,81.63 V85.43 M501.5,81.63 V85.43 M502.5,81.63 V85.43" stroke="#26538a" stroke-width="0.9"/>
<text x="393.1" y="71.2" font-size="8" fill="#3a5f8c" textLength="60.2" lengthAdjust="spacingAndGlyphs" stroke="#3a5f8c" stroke-width="0.05">SDI low (n = 269)</text>
<text x="368.9" y="98.8" font-size="8" fill="#e2574a" textLength="62.6" lengthAdjust="spacingAndGlyphs" stroke="#e2574a" stroke-width="0.05">SDI high (n = 800)</text>
<text x="458.5" y="37" font-size="8" fill="#231f20" stroke="#231f20" stroke-width="0.17" textLength="29.1" lengthAdjust="spacingAndGlyphs"><tspan font-style="italic">P</tspan> = .005</text>
<text x="332.3" y="151.5" font-size="8.1" text-anchor="end" fill="#231f20" textLength="50.1" lengthAdjust="spacingAndGlyphs" stroke="#231f20" stroke-width="0.17">Number at Risk</text>
<text x="332.3" y="161.9" font-size="8.1" text-anchor="end" fill="#231f20" textLength="38.4" lengthAdjust="spacingAndGlyphs" stroke="#231f20" stroke-width="0.17">SDI low pts</text>
<text x="349.5" y="161.9" font-size="8.1" text-anchor="middle" fill="#231f20" textLength="13.21" lengthAdjust="spacingAndGlyphs" stroke="#231f20" stroke-width="0.17">269</text>
<text x="365.18" y="161.9" font-size="8.1" text-anchor="middle" fill="#231f20" textLength="13.21" lengthAdjust="spacingAndGlyphs" stroke="#231f20" stroke-width="0.17">200</text>
<text x="380.86" y="161.9" font-size="8.1" text-anchor="middle" fill="#231f20" textLength="13.21" lengthAdjust="spacingAndGlyphs" stroke="#231f20" stroke-width="0.17">149</text>
<text x="396.54" y="161.9" font-size="8.1" text-anchor="middle" fill="#231f20" textLength="13.21" lengthAdjust="spacingAndGlyphs" stroke="#231f20" stroke-width="0.17">133</text>
<text x="412.22" y="161.9" font-size="8.1" text-anchor="middle" fill="#231f20" textLength="13.21" lengthAdjust="spacingAndGlyphs" stroke="#231f20" stroke-width="0.17">126</text>
<text x="427.9" y="161.9" font-size="8.1" text-anchor="middle" fill="#231f20" textLength="12.63" lengthAdjust="spacingAndGlyphs" stroke="#231f20" stroke-width="0.17">116</text>
<text x="443.58" y="161.9" font-size="8.1" text-anchor="middle" fill="#231f20" textLength="8.81" lengthAdjust="spacingAndGlyphs" stroke="#231f20" stroke-width="0.17">85</text>
<text x="459.26" y="161.9" font-size="8.1" text-anchor="middle" fill="#231f20" textLength="8.81" lengthAdjust="spacingAndGlyphs" stroke="#231f20" stroke-width="0.17">72</text>
<text x="474.94" y="161.9" font-size="8.1" text-anchor="middle" fill="#231f20" textLength="8.81" lengthAdjust="spacingAndGlyphs" stroke="#231f20" stroke-width="0.17">57</text>
<text x="490.62" y="161.9" font-size="8.1" text-anchor="middle" fill="#231f20" textLength="8.81" lengthAdjust="spacingAndGlyphs" stroke="#231f20" stroke-width="0.17">43</text>
<text x="506.3" y="161.9" font-size="8.1" text-anchor="middle" fill="#231f20" textLength="8.81" lengthAdjust="spacingAndGlyphs" stroke="#231f20" stroke-width="0.17">27</text>
<text x="332.3" y="171.7" font-size="8.1" text-anchor="end" fill="#231f20" textLength="41" lengthAdjust="spacingAndGlyphs" stroke="#231f20" stroke-width="0.17">SDI high pts</text>
<text x="349.5" y="171.7" font-size="8.1" text-anchor="middle" fill="#231f20" textLength="13.21" lengthAdjust="spacingAndGlyphs" stroke="#231f20" stroke-width="0.17">800</text>
<text x="365.18" y="171.7" font-size="8.1" text-anchor="middle" fill="#231f20" textLength="13.21" lengthAdjust="spacingAndGlyphs" stroke="#231f20" stroke-width="0.17">531</text>
<text x="380.86" y="171.7" font-size="8.1" text-anchor="middle" fill="#231f20" textLength="13.21" lengthAdjust="spacingAndGlyphs" stroke="#231f20" stroke-width="0.17">387</text>
<text x="396.54" y="171.7" font-size="8.1" text-anchor="middle" fill="#231f20" textLength="13.21" lengthAdjust="spacingAndGlyphs" stroke="#231f20" stroke-width="0.17">329</text>
<text x="412.22" y="171.7" font-size="8.1" text-anchor="middle" fill="#231f20" textLength="13.21" lengthAdjust="spacingAndGlyphs" stroke="#231f20" stroke-width="0.17">298</text>
<text x="427.9" y="171.7" font-size="8.1" text-anchor="middle" fill="#231f20" textLength="13.21" lengthAdjust="spacingAndGlyphs" stroke="#231f20" stroke-width="0.17">267</text>
<text x="443.58" y="171.7" font-size="8.1" text-anchor="middle" fill="#231f20" textLength="13.21" lengthAdjust="spacingAndGlyphs" stroke="#231f20" stroke-width="0.17">222</text>
<text x="459.26" y="171.7" font-size="8.1" text-anchor="middle" fill="#231f20" textLength="13.21" lengthAdjust="spacingAndGlyphs" stroke="#231f20" stroke-width="0.17">177</text>
<text x="474.94" y="171.7" font-size="8.1" text-anchor="middle" fill="#231f20" textLength="13.21" lengthAdjust="spacingAndGlyphs" stroke="#231f20" stroke-width="0.17">146</text>
<text x="490.62" y="171.7" font-size="8.1" text-anchor="middle" fill="#231f20" textLength="12.63" lengthAdjust="spacingAndGlyphs" stroke="#231f20" stroke-width="0.17">110</text>
<text x="506.3" y="171.7" font-size="8.1" text-anchor="middle" fill="#231f20" textLength="8.81" lengthAdjust="spacingAndGlyphs" stroke="#231f20" stroke-width="0.17">70</text>
<path d="M297.2,226.3 V343.7 H418.5" fill="none" stroke="#2a2a2a" stroke-width="1.3"/>
<text x="297.2" y="354.9" font-size="8" text-anchor="middle" fill="#231f20" textLength="4.14" lengthAdjust="spacingAndGlyphs" stroke="#231f20" stroke-width="0.12">0</text>
<text x="326.4" y="354.9" font-size="8" text-anchor="middle" fill="#231f20" textLength="4.14" lengthAdjust="spacingAndGlyphs" stroke="#231f20" stroke-width="0.12">1</text>
<text x="355.6" y="354.9" font-size="8" text-anchor="middle" fill="#231f20" textLength="4.14" lengthAdjust="spacingAndGlyphs" stroke="#231f20" stroke-width="0.12">2</text>
<text x="384.8" y="354.9" font-size="8" text-anchor="middle" fill="#231f20" textLength="4.14" lengthAdjust="spacingAndGlyphs" stroke="#231f20" stroke-width="0.12">3</text>
<text x="414" y="354.9" font-size="8" text-anchor="middle" fill="#231f20" textLength="4.14" lengthAdjust="spacingAndGlyphs" stroke="#231f20" stroke-width="0.12">4</text>
<path d="M294.2,238 H297.2 M294.2,254 H297.2 M294.2,270 H297.2 M294.2,286 H297.2 M294.2,302 H297.2 M294.2,318 H297.2 M294.2,333.5 H297.2 M297.2,343.7 V346.2 M326.4,343.7 V346.2 M355.6,343.7 V346.2 M384.8,343.7 V346.2 M414,343.7 V346.2" stroke="#231f20" stroke-width="0.9"/>
<path d="M325.4,226.5 V343.7" stroke="#231f20" stroke-width="1" stroke-dasharray="1.5,1.5"/>
<text x="291.3" y="240.2" font-size="7.9" text-anchor="end" fill="#231f20" textLength="74.7" lengthAdjust="spacingAndGlyphs" stroke="#231f20" stroke-width="0.17">SDI score: high vs low</text>
<text x="291.3" y="256.2" font-size="7.9" text-anchor="end" fill="#231f20" textLength="61.2" lengthAdjust="spacingAndGlyphs" stroke="#231f20" stroke-width="0.17">WBC, Continuous</text>
<text x="291.3" y="272.2" font-size="7.9" text-anchor="end" fill="#231f20" textLength="55" lengthAdjust="spacingAndGlyphs" stroke="#231f20" stroke-width="0.17">Age, Continuous</text>
<text x="291.3" y="288.2" font-size="7.9" text-anchor="end" fill="#231f20" stroke="#231f20" stroke-width="0.17" textLength="93.5" lengthAdjust="spacingAndGlyphs"><tspan font-style="italic">KRAS</tspan>: mutated vs wild-type</text>
<text x="291.3" y="304.2" font-size="7.9" text-anchor="end" fill="#231f20" stroke="#231f20" stroke-width="0.17" textLength="89.5" lengthAdjust="spacingAndGlyphs"><tspan font-style="italic">WT1</tspan>: mutated vs wild-type</text>
<text x="291.3" y="320.2" font-size="7.9" text-anchor="end" fill="#231f20" textLength="167.9" lengthAdjust="spacingAndGlyphs" stroke="#231f20" stroke-width="0.17">2017 ELN genetic-risk group: favorable vs adverse</text>
<text x="291.3" y="335.7" font-size="7.9" text-anchor="end" fill="#231f20" textLength="178.5" lengthAdjust="spacingAndGlyphs" stroke="#231f20" stroke-width="0.17">2017 ELN genetic-risk group: intermediate vs adverse</text>
<path d="M328.6,238 H351.5 M328.6,235.5 V240.5 M351.5,235.5 V240.5 M328.6,254 H335.4 M328.6,251.5 V256.5 M335.4,251.5 V256.5 M330.7,270 H338.3 M330.7,267.5 V272.5 M338.3,267.5 V272.5 M325.4,286 H373.3 M325.4,283.5 V288.5 M373.3,283.5 V288.5 M340.2,302 H384.4 M340.2,299.5 V304.5 M384.4,299.5 V304.5 M301.7,318 H306.5 M301.7,315.5 V320.5 M306.5,315.5 V320.5 M310.8,333.5 H320.4 M310.8,331 V336 M320.4,331 V336" stroke="#2b2b2b" stroke-width="1.15" fill="none"/>
<path d="M340.1,235.4 L342.96,240.08 L337.24,240.08 Z" fill="#dc3345"/>
<path d="M332,252.1 L334.09,255.52 L329.91,255.52 Z" fill="#dc3345"/>
<path d="M334.5,268.1 L336.59,271.52 L332.41,271.52 Z" fill="#dc3345"/>
<path d="M349.4,284.1 L351.49,287.52 L347.31,287.52 Z" fill="#dc3345"/>
<path d="M361.9,300.1 L363.99,303.52 L359.81,303.52 Z" fill="#dc3345"/>
<path d="M304,316.1 L306.09,319.52 L301.91,319.52 Z" fill="#dc3345"/>
<path d="M315.4,331.6 L317.49,335.02 L313.31,335.02 Z" fill="#dc3345"/>
<text x="339.9" y="367.6" font-size="9.6" fill="#231f20" textLength="36" lengthAdjust="spacingAndGlyphs" stroke="#231f20" stroke-width="0.45">Hazard Ratio</text>
<path d="M79.8,388 V494.7 H243.8" fill="none" stroke="#2a2a2a" stroke-width="1.3"/>
<text x="74.9" y="497.4" font-size="8" text-anchor="end" fill="#231f20" textLength="10.34" lengthAdjust="spacingAndGlyphs" stroke="#231f20" stroke-width="0.12">0.0</text>
<text x="74.9" y="476.84" font-size="8" text-anchor="end" fill="#231f20" textLength="10.34" lengthAdjust="spacingAndGlyphs" stroke="#231f20" stroke-width="0.12">0.2</text>
<text x="74.9" y="456.28" font-size="8" text-anchor="end" fill="#231f20" textLength="10.34" lengthAdjust="spacingAndGlyphs" stroke="#231f20" stroke-width="0.12">0.4</text>
<text x="74.9" y="435.72" font-size="8" text-anchor="end" fill="#231f20" textLength="10.34" lengthAdjust="spacingAndGlyphs" stroke="#231f20" stroke-width="0.12">0.6</text>
<text x="74.9" y="415.16" font-size="8" text-anchor="end" fill="#231f20" textLength="10.34" lengthAdjust="spacingAndGlyphs" stroke="#231f20" stroke-width="0.12">0.8</text>
<text x="74.9" y="394.6" font-size="8" text-anchor="end" fill="#231f20" textLength="10.34" lengthAdjust="spacingAndGlyphs" stroke="#231f20" stroke-width="0.12">1.0</text>
<text x="79.8" y="505.5" font-size="8" text-anchor="middle" fill="#231f20" textLength="4.14" lengthAdjust="spacingAndGlyphs" stroke="#231f20" stroke-width="0.12">0</text>
<text x="95.78" y="505.5" font-size="8" text-anchor="middle" fill="#231f20" textLength="4.14" lengthAdjust="spacingAndGlyphs" stroke="#231f20" stroke-width="0.12">1</text>
<text x="111.76" y="505.5" font-size="8" text-anchor="middle" fill="#231f20" textLength="4.14" lengthAdjust="spacingAndGlyphs" stroke="#231f20" stroke-width="0.12">2</text>
<text x="127.74" y="505.5" font-size="8" text-anchor="middle" fill="#231f20" textLength="4.14" lengthAdjust="spacingAndGlyphs" stroke="#231f20" stroke-width="0.12">3</text>
<text x="143.72" y="505.5" font-size="8" text-anchor="middle" fill="#231f20" textLength="4.14" lengthAdjust="spacingAndGlyphs" stroke="#231f20" stroke-width="0.12">4</text>
<text x="159.7" y="505.5" font-size="8" text-anchor="middle" fill="#231f20" textLength="4.14" lengthAdjust="spacingAndGlyphs" stroke="#231f20" stroke-width="0.12">5</text>
<text x="175.68" y="505.5" font-size="8" text-anchor="middle" fill="#231f20" textLength="4.14" lengthAdjust="spacingAndGlyphs" stroke="#231f20" stroke-width="0.12">6</text>
<text x="191.66" y="505.5" font-size="8" text-anchor="middle" fill="#231f20" textLength="4.14" lengthAdjust="spacingAndGlyphs" stroke="#231f20" stroke-width="0.12">7</text>
<text x="207.64" y="505.5" font-size="8" text-anchor="middle" fill="#231f20" textLength="4.14" lengthAdjust="spacingAndGlyphs" stroke="#231f20" stroke-width="0.12">8</text>
<text x="223.62" y="505.5" font-size="8" text-anchor="middle" fill="#231f20" textLength="4.14" lengthAdjust="spacingAndGlyphs" stroke="#231f20" stroke-width="0.12">9</text>
<text x="239.6" y="505.5" font-size="8" text-anchor="middle" fill="#231f20" textLength="8.28" lengthAdjust="spacingAndGlyphs" stroke="#231f20" stroke-width="0.12">10</text>
<path d="M76.8,494.7 H79.8 M76.8,474.14 H79.8 M76.8,453.58 H79.8 M76.8,433.02 H79.8 M76.8,412.46 H79.8 M76.8,391.9 H79.8 M79.8,494.7 V497.2 M95.78,494.7 V497.2 M111.76,494.7 V497.2 M127.74,494.7 V497.2 M143.72,494.7 V497.2 M159.7,494.7 V497.2 M175.68,494.7 V497.2 M191.66,494.7 V497.2 M207.64,494.7 V497.2 M223.62,494.7 V497.2 M239.6,494.7 V497.2" stroke="#231f20" stroke-width="0.9"/>
<text x="152.7" y="515.4" font-size="8.8" fill="#231f20" textLength="14.6" lengthAdjust="spacingAndGlyphs" stroke="#231f20" stroke-width="0.45">Years</text>
<text x="0" y="0" font-size="9.2" fill="#231f20" stroke="#231f20" stroke-width="0.45" textLength="44" lengthAdjust="spacingAndGlyphs" transform="translate(61.4,463.6) rotate(-90)">Overall survival</text>
<path d="M79.8,391.9 L80.31,391.9 L80.31,393.34 L81.61,393.34 L81.61,394.75 L83.21,394.75 L83.21,396.15 L85.23,396.15 L85.23,397.54 L87.52,397.54 L87.52,398.94 L92,398.94 L92,400.37 L94.18,400.37 L94.18,401.76 L99.3,401.76 L99.3,403.15 L101.64,403.15 L101.64,404.55 L102.36,404.55 L102.36,405.97 L103.64,405.97 L103.64,407.36 L106.33,407.36 L106.33,408.77 L108.52,408.77 L108.52,410.16 L120.24,410.16 L120.24,411.55 L122.31,411.55 L122.31,412.95 L124.82,412.95 L124.82,414.34 L138.35,414.34 L138.35,415.79 L146.85,415.79 L146.85,417.19 L148.39,417.19 L148.39,418.58 L149.59,418.58 L149.59,420 L239.6,420" fill="none" stroke="#26538a" stroke-width="1"/>
<path d="M79.8,391.9 L79.99,391.9 L79.99,392.43 L80.17,392.43 L80.17,392.96 L80.36,392.96 L80.36,393.49 L80.84,393.49 L80.84,394.01 L81.56,394.01 L81.56,394.53 L82.28,394.53 L82.28,395.05 L83,395.05 L83,395.58 L83.72,395.58 L83.72,396.1 L84.43,396.1 L84.43,396.63 L85.15,396.63 L85.15,397.17 L85.87,397.17 L85.87,397.7 L86.59,397.7 L86.59,398.24 L87.31,398.24 L87.31,398.77 L87.82,398.77 L87.82,399.31 L88.16,399.31 L88.16,399.87 L88.51,399.87 L88.51,400.42 L88.86,400.42 L88.86,400.98 L89.2,400.98 L89.2,401.54 L89.55,401.54 L89.55,402.1 L89.9,402.1 L89.9,402.66 L90.19,402.66 L90.19,403.19 L90.46,403.19 L90.46,403.72 L90.72,403.72 L90.72,404.25 L90.99,404.25 L90.99,404.79 L91.25,404.79 L91.25,405.32 L91.52,405.32 L91.52,405.85 L91.79,405.85 L91.79,406.38 L92.05,406.38 L92.05,406.91 L92.32,406.91 L92.32,407.44 L92.67,407.44 L92.67,407.97 L93.07,407.97 L93.07,408.51 L93.47,408.51 L93.47,409.05 L93.86,409.05 L93.86,409.58 L94.66,409.58 L94.66,410.11 L95.46,410.11 L95.46,410.64 L96.26,410.64 L96.26,411.17 L97.06,411.17 L97.06,411.69 L97.86,411.69 L97.86,412.22 L98.5,412.22 L98.5,412.76 L99.01,412.76 L99.01,413.28 L99.51,413.28 L99.51,413.8 L100.02,413.8 L100.02,414.32 L100.52,414.32 L100.52,414.84 L101.03,414.84 L101.03,415.36 L101.35,415.36 L101.35,415.87 L101.67,415.87 L101.67,416.4 L101.99,416.4 L101.99,416.93 L102.31,416.93 L102.31,417.47 L102.63,417.47 L102.63,418 L102.95,418 L102.95,418.53 L103.27,418.53 L103.27,419.06 L103.59,419.06 L103.59,419.59 L103.91,419.59 L103.91,420.12 L104.41,420.12 L104.41,420.64 L104.95,420.64 L104.95,421.17 L105.48,421.17 L105.48,421.69 L106.01,421.69 L106.01,422.22 L106.54,422.22 L106.54,422.75 L107.13,422.75 L107.13,423.28 L107.74,423.28 L107.74,423.8 L108.36,423.8 L108.36,424.32 L108.97,424.32 L108.97,424.84 L109.58,424.84 L109.58,425.36 L110.57,425.36 L110.57,425.88 L111.63,425.88 L111.63,426.41 L112.7,426.41 L112.7,426.93 L113.92,426.93 L113.92,427.45 L115.17,427.45 L115.17,427.98 L116.48,427.98 L116.48,428.5 L117.79,428.5 L117.79,429.03 L119.09,429.03 L119.09,429.55 L120.74,429.55 L120.74,430.07 L122.79,430.07 L122.79,430.6 L126.1,430.6 L126.1,431.11 L133.08,431.11 L133.08,431.63 L136.43,431.63 L136.43,432.15 L138.91,432.15 L138.91,432.67 L141.15,432.67 L141.15,433.19 L143.38,433.19 L143.38,433.71 L145.6,433.71 L145.6,434.23 L147.81,434.23 L147.81,434.74 L150.02,434.74 L150.02,435.26 L152.39,435.26 L152.39,435.78 L155.1,435.78 L155.1,436.3 L157.21,436.3 L157.21,436.82 L158.78,436.82 L158.78,437.34 L160.67,437.34 L160.67,437.86 L163.79,437.86 L163.79,438.38 L166.91,438.38 L166.91,438.9 L170.47,438.9 L170.47,439.42 L179.82,439.42 L179.82,439.94 L187.66,439.94 L187.66,440.45 L194.02,440.45 L194.02,440.97 L200.39,440.97 L200.39,441.49 L206.06,441.49 L206.06,442.01 L208.19,442.01 L208.19,442.52 L216.32,442.52 L216.32,443.04 L228.63,443.04 L228.63,443.56 L233.71,443.56 L233.71,444.07 L238.8,444.07 L238.8,444.59 L239.6,444.59" fill="none" stroke="#e4402a" stroke-width="1"/>
<path d="M132.5,429.21 V433.01 M137.5,430.25 V434.05 M138.5,430.25 V434.05 M140.5,430.77 V434.57 M145.5,432.33 V436.13 M147.5,432.33 V436.13 M148.5,432.84 V436.64 M157.5,434.92 V438.72 M159.5,435.44 V439.24 M161.5,435.96 V439.76 M163.5,435.96 V439.76 M173.5,437.52 V441.32 M175.5,437.52 V441.32 M175.5,437.52 V441.32 M176.5,437.52 V441.32 M176.5,437.52 V441.32 M180.5,438.04 V441.84 M180.5,438.04 V441.84 M181.5,438.04 V441.84 M181.5,438.04 V441.84 M182.5,438.04 V441.84 M184.5,438.04 V441.84 M184.5,438.04 V441.84 M185.5,438.04 V441.84 M188.5,438.55 V442.35 M190.5,438.55 V442.35 M191.5,438.55 V442.35 M197.5,439.07 V442.87 M197.5,439.07 V442.87 M198.5,439.07 V442.87 M199.5,439.07 V442.87 M202.5,439.59 V443.39 M204.5,439.59 V443.39 M205.5,439.59 V443.39 M207.5,440.11 V443.91 M207.5,440.11 V443.91 M209.5,440.62 V444.42 M211.5,440.62 V444.42 M211.5,440.62 V444.42 M213.5,440.62 V444.42 M216.5,441.14 V444.94 M220.5,441.14 V444.94 M223.5,441.14 V444.94 M225.5,441.14 V444.94 M225.5,441.14 V444.94 M226.5,441.14 V444.94 M227.5,441.14 V444.94 M228.5,441.66 V445.46 M229.5,441.66 V445.46 M230.5,441.66 V445.46 M231.5,441.66 V445.46 M231.5,441.66 V445.46 M233.5,441.66 V445.46 M233.5,442.17 V445.97 M234.5,442.17 V445.97 M235.5,442.17 V445.97" stroke="#e4402a" stroke-width="1"/>
<path d="M150.5,418.1 V421.9 M152.5,418.1 V421.9 M155.5,418.1 V421.9 M157.5,418.1 V421.9 M160.5,418.1 V421.9 M162.5,418.1 V421.9 M164.5,418.1 V421.9 M167.5,418.1 V421.9 M169.5,418.1 V421.9 M173.5,418.1 V421.9 M175.5,418.1 V421.9 M178.5,418.1 V421.9 M180.5,418.1 V421.9 M182.5,418.1 V421.9 M184.5,418.1 V421.9 M192.5,418.1 V421.9 M195.5,418.1 V421.9 M197.5,418.1 V421.9 M202.5,418.1 V421.9 M213.5,418.1 V421.9 M216.5,418.1 V421.9 M218.5,418.1 V421.9 M222.5,418.1 V421.9 M228.5,418.1 V421.9 M231.5,418.1 V421.9 M234.5,418.1 V421.9 M238.5,418.1 V421.9" stroke="#26538a" stroke-width="0.9"/>
<text x="148.5" y="413" font-size="8" fill="#3a5f8c" textLength="54.4" lengthAdjust="spacingAndGlyphs" stroke="#3a5f8c" stroke-width="0.05">SDI low (n = 74)</text>
<text x="132.3" y="450.4" font-size="8" fill="#e2574a" textLength="62.3" lengthAdjust="spacingAndGlyphs" stroke="#e2574a" stroke-width="0.05">SDI high (n = 199)</text>
<text x="196.3" y="396.2" font-size="8" fill="#231f20" stroke="#231f20" stroke-width="0.17" textLength="29.4" lengthAdjust="spacingAndGlyphs"><tspan font-style="italic">P</tspan> = .004</text>
<text x="67" y="518.7" font-size="8.1" text-anchor="end" fill="#231f20" textLength="50.1" lengthAdjust="spacingAndGlyphs" stroke="#231f20" stroke-width="0.17">Number at Risk</text>
<text x="67" y="528.7" font-size="8.1" text-anchor="end" fill="#231f20" textLength="38.3" lengthAdjust="spacingAndGlyphs" stroke="#231f20" stroke-width="0.17">SDI low pts</text>
<text x="79.8" y="528.7" font-size="8.1" text-anchor="middle" fill="#231f20" textLength="8.81" lengthAdjust="spacingAndGlyphs" stroke="#231f20" stroke-width="0.17">74</text>
<text x="95.78" y="528.7" font-size="8.1" text-anchor="middle" fill="#231f20" textLength="13.21" lengthAdjust="spacingAndGlyphs" stroke="#231f20" stroke-width="0.17">677</text>
<text x="111.76" y="528.7" font-size="8.1" text-anchor="middle" fill="#231f20" textLength="8.81" lengthAdjust="spacingAndGlyphs" stroke="#231f20" stroke-width="0.17">60</text>
<text x="127.74" y="528.7" font-size="8.1" text-anchor="middle" fill="#231f20" textLength="8.81" lengthAdjust="spacingAndGlyphs" stroke="#231f20" stroke-width="0.17">56</text>
<text x="143.72" y="528.7" font-size="8.1" text-anchor="middle" fill="#231f20" textLength="8.81" lengthAdjust="spacingAndGlyphs" stroke="#231f20" stroke-width="0.17">55</text>
<text x="159.7" y="528.7" font-size="8.1" text-anchor="middle" fill="#231f20" textLength="8.81" lengthAdjust="spacingAndGlyphs" stroke="#231f20" stroke-width="0.17">50</text>
<text x="175.68" y="528.7" font-size="8.1" text-anchor="middle" fill="#231f20" textLength="8.81" lengthAdjust="spacingAndGlyphs" stroke="#231f20" stroke-width="0.17">37</text>
<text x="191.66" y="528.7" font-size="8.1" text-anchor="middle" fill="#231f20" textLength="8.81" lengthAdjust="spacingAndGlyphs" stroke="#231f20" stroke-width="0.17">33</text>
<text x="207.64" y="528.7" font-size="8.1" text-anchor="middle" fill="#231f20" textLength="8.81" lengthAdjust="spacingAndGlyphs" stroke="#231f20" stroke-width="0.17">26</text>
<text x="223.62" y="528.7" font-size="8.1" text-anchor="middle" fill="#231f20" textLength="8.81" lengthAdjust="spacingAndGlyphs" stroke="#231f20" stroke-width="0.17">18</text>
<text x="239.6" y="528.7" font-size="8.1" text-anchor="middle" fill="#231f20" textLength="8.22" lengthAdjust="spacingAndGlyphs" stroke="#231f20" stroke-width="0.17">11</text>
<text x="67" y="538.9" font-size="8.1" text-anchor="end" fill="#231f20" textLength="40.8" lengthAdjust="spacingAndGlyphs" stroke="#231f20" stroke-width="0.17">SDI high pts</text>
<text x="79.8" y="538.9" font-size="8.1" text-anchor="middle" fill="#231f20" textLength="13.21" lengthAdjust="spacingAndGlyphs" stroke="#231f20" stroke-width="0.17">199</text>
<text x="95.78" y="538.9" font-size="8.1" text-anchor="middle" fill="#231f20" textLength="13.21" lengthAdjust="spacingAndGlyphs" stroke="#231f20" stroke-width="0.17">161</text>
<text x="111.76" y="538.9" font-size="8.1" text-anchor="middle" fill="#231f20" textLength="13.21" lengthAdjust="spacingAndGlyphs" stroke="#231f20" stroke-width="0.17">132</text>
<text x="127.74" y="538.9" font-size="8.1" text-anchor="middle" fill="#231f20" textLength="13.21" lengthAdjust="spacingAndGlyphs" stroke="#231f20" stroke-width="0.17">120</text>
<text x="143.72" y="538.9" font-size="8.1" text-anchor="middle" fill="#231f20" textLength="12.04" lengthAdjust="spacingAndGlyphs" stroke="#231f20" stroke-width="0.17">111</text>
<text x="159.7" y="538.9" font-size="8.1" text-anchor="middle" fill="#231f20" textLength="8.81" lengthAdjust="spacingAndGlyphs" stroke="#231f20" stroke-width="0.17">99</text>
<text x="175.68" y="538.9" font-size="8.1" text-anchor="middle" fill="#231f20" textLength="8.81" lengthAdjust="spacingAndGlyphs" stroke="#231f20" stroke-width="0.17">90</text>
<text x="191.66" y="538.9" font-size="8.1" text-anchor="middle" fill="#231f20" textLength="8.81" lengthAdjust="spacingAndGlyphs" stroke="#231f20" stroke-width="0.17">69</text>
<text x="207.64" y="538.9" font-size="8.1" text-anchor="middle" fill="#231f20" textLength="8.81" lengthAdjust="spacingAndGlyphs" stroke="#231f20" stroke-width="0.17">56</text>
<text x="223.62" y="538.9" font-size="8.1" text-anchor="middle" fill="#231f20" textLength="8.81" lengthAdjust="spacingAndGlyphs" stroke="#231f20" stroke-width="0.17">43</text>
<text x="239.6" y="538.9" font-size="8.1" text-anchor="middle" fill="#231f20" textLength="8.81" lengthAdjust="spacingAndGlyphs" stroke="#231f20" stroke-width="0.17">24</text>
<path d="M351.7,391.5 V494.7 H510.2" fill="none" stroke="#2a2a2a" stroke-width="1.3"/>
<text x="346.8" y="497.4" font-size="8" text-anchor="end" fill="#231f20" textLength="10.34" lengthAdjust="spacingAndGlyphs" stroke="#231f20" stroke-width="0.12">0.0</text>
<text x="346.8" y="477.58" font-size="8" text-anchor="end" fill="#231f20" textLength="10.34" lengthAdjust="spacingAndGlyphs" stroke="#231f20" stroke-width="0.12">0.2</text>
<text x="346.8" y="457.76" font-size="8" text-anchor="end" fill="#231f20" textLength="10.34" lengthAdjust="spacingAndGlyphs" stroke="#231f20" stroke-width="0.12">0.4</text>
<text x="346.8" y="437.94" font-size="8" text-anchor="end" fill="#231f20" textLength="10.34" lengthAdjust="spacingAndGlyphs" stroke="#231f20" stroke-width="0.12">0.6</text>
<text x="346.8" y="418.12" font-size="8" text-anchor="end" fill="#231f20" textLength="10.34" lengthAdjust="spacingAndGlyphs" stroke="#231f20" stroke-width="0.12">0.8</text>
<text x="346.8" y="398.3" font-size="8" text-anchor="end" fill="#231f20" textLength="10.34" lengthAdjust="spacingAndGlyphs" stroke="#231f20" stroke-width="0.12">1.0</text>
<text x="351.7" y="505.8" font-size="8" text-anchor="middle" fill="#231f20" textLength="4.14" lengthAdjust="spacingAndGlyphs" stroke="#231f20" stroke-width="0.12">0</text>
<text x="367.13" y="505.8" font-size="8" text-anchor="middle" fill="#231f20" textLength="4.14" lengthAdjust="spacingAndGlyphs" stroke="#231f20" stroke-width="0.12">1</text>
<text x="382.56" y="505.8" font-size="8" text-anchor="middle" fill="#231f20" textLength="4.14" lengthAdjust="spacingAndGlyphs" stroke="#231f20" stroke-width="0.12">2</text>
<text x="397.99" y="505.8" font-size="8" text-anchor="middle" fill="#231f20" textLength="4.14" lengthAdjust="spacingAndGlyphs" stroke="#231f20" stroke-width="0.12">3</text>
<text x="413.42" y="505.8" font-size="8" text-anchor="middle" fill="#231f20" textLength="4.14" lengthAdjust="spacingAndGlyphs" stroke="#231f20" stroke-width="0.12">4</text>
<text x="428.85" y="505.8" font-size="8" text-anchor="middle" fill="#231f20" textLength="4.14" lengthAdjust="spacingAndGlyphs" stroke="#231f20" stroke-width="0.12">5</text>
<text x="444.28" y="505.8" font-size="8" text-anchor="middle" fill="#231f20" textLength="4.14" lengthAdjust="spacingAndGlyphs" stroke="#231f20" stroke-width="0.12">6</text>
<text x="459.71" y="505.8" font-size="8" text-anchor="middle" fill="#231f20" textLength="4.14" lengthAdjust="spacingAndGlyphs" stroke="#231f20" stroke-width="0.12">7</text>
<text x="475.14" y="505.8" font-size="8" text-anchor="middle" fill="#231f20" textLength="4.14" lengthAdjust="spacingAndGlyphs" stroke="#231f20" stroke-width="0.12">8</text>
<text x="490.57" y="505.8" font-size="8" text-anchor="middle" fill="#231f20" textLength="4.14" lengthAdjust="spacingAndGlyphs" stroke="#231f20" stroke-width="0.12">9</text>
<text x="506" y="505.8" font-size="8" text-anchor="middle" fill="#231f20" textLength="8.28" lengthAdjust="spacingAndGlyphs" stroke="#231f20" stroke-width="0.12">10</text>
<path d="M348.7,494.7 H351.7 M348.7,474.88 H351.7 M348.7,455.06 H351.7 M348.7,435.24 H351.7 M348.7,415.42 H351.7 M348.7,395.6 H351.7 M351.7,494.7 V497.2 M367.13,494.7 V497.2 M382.56,494.7 V497.2 M397.99,494.7 V497.2 M413.42,494.7 V497.2 M428.85,494.7 V497.2 M444.28,494.7 V497.2 M459.71,494.7 V497.2 M475.14,494.7 V497.2 M490.57,494.7 V497.2 M506,494.7 V497.2" stroke="#231f20" stroke-width="0.9"/>
<text x="421.4" y="515.5" font-size="8.8" fill="#231f20" textLength="14.8" lengthAdjust="spacingAndGlyphs" stroke="#231f20" stroke-width="0.45">Years</text>
<text x="0" y="0" font-size="9.2" fill="#231f20" stroke="#231f20" stroke-width="0.45" textLength="44" lengthAdjust="spacingAndGlyphs" transform="translate(332.8,466.3) rotate(-90)">Overall survival</text>
<path d="M351.7,395.6 L351.83,395.6 L351.83,396.7 L351.96,396.7 L351.96,397.8 L352.09,397.8 L352.09,398.9 L352.45,398.9 L352.45,400.02 L353.01,400.02 L353.01,401.16 L353.58,401.16 L353.58,402.29 L354.14,402.29 L354.14,403.43 L354.71,403.43 L354.71,404.55 L355.35,404.55 L355.35,405.66 L355.99,405.66 L355.99,406.78 L356.63,406.78 L356.63,407.89 L357.28,407.89 L357.28,409.01 L357.94,409.01 L357.94,410.11 L358.69,410.11 L358.69,411.24 L359.43,411.24 L359.43,412.36 L360.18,412.36 L360.18,413.49 L360.92,413.49 L360.92,414.59 L361.77,414.59 L361.77,415.71 L362.62,415.71 L362.62,416.84 L363.16,416.84 L363.16,418.13 L363.24,418.13 L363.24,419.28 L363.31,419.28 L363.31,420.44 L363.39,420.44 L363.39,421.59 L363.47,421.59 L363.47,422.75 L363.55,422.75 L363.55,423.9 L363.93,423.9 L363.93,425.02 L364.6,425.02 L364.6,426.13 L365.27,426.13 L365.27,427.24 L365.86,427.24 L365.86,428.36 L366.42,428.36 L366.42,429.48 L366.99,429.48 L366.99,430.61 L367.45,430.61 L367.45,431.78 L367.91,431.78 L367.91,432.94 L368.38,432.94 L368.38,434.11 L368.84,434.11 L368.84,435.25 L369.94,435.25 L369.94,436.36 L371.05,436.36 L371.05,437.47 L372.15,437.47 L372.15,438.57 L373.16,438.57 L373.16,439.69 L374.05,439.69 L374.05,440.79 L374.95,440.79 L374.95,441.9 L375.85,441.9 L375.85,443.01 L376.75,443.01 L376.75,444.15 L377.58,444.15 L377.58,445.26 L378.4,445.26 L378.4,446.37 L379.22,446.37 L379.22,447.48 L379.86,447.48 L379.86,448.59 L380.43,448.59 L380.43,449.69 L380.99,449.69 L380.99,450.8 L381.56,450.8 L381.56,451.91 L382.12,451.91 L382.12,453.02 L383.15,453.02 L383.15,454.13 L384.64,454.13 L384.64,455.24 L386.13,455.24 L386.13,456.35 L389.5,456.35 L389.5,457.45 L391.78,457.45 L391.78,458.57 L393.07,458.57 L393.07,459.67 L398.36,459.67 L398.36,460.77 L401.47,460.77 L401.47,461.87 L404.12,461.87 L404.12,462.99 L406.28,462.99 L406.28,464.09 L408.49,464.09 L408.49,465.21 L425.11,465.21 L425.11,466.32 L491.53,466.32 L491.53,467.43 L492.51,467.43 L492.51,468.56 L492.9,468.56 L492.9,469.73 L497.55,469.73 L497.55,470.85 L499.14,470.85 L499.14,471.95 L505.69,471.95 L505.69,472.3 L505.85,472.3" fill="none" stroke="#e4402a" stroke-width="1"/>
<path d="M351.7,395.6 L351.73,395.6 L351.73,395.82 L351.75,395.82 L351.75,396.04 L351.78,396.04 L351.78,396.26 L351.8,396.26 L351.8,396.48 L351.83,396.48 L351.83,396.7 L351.85,396.7 L351.85,396.92 L351.88,396.92 L351.88,397.14 L351.91,397.14 L351.91,397.36 L351.93,397.36 L351.93,397.58 L351.96,397.58 L351.96,397.8 L351.98,397.8 L351.98,398.02 L352.01,398.02 L352.01,398.24 L352.03,398.24 L352.03,398.46 L352.06,398.46 L352.06,398.68 L352.09,398.68 L352.09,398.9 L352.11,398.9 L352.11,399.12 L352.14,399.12 L352.14,399.34 L352.16,399.34 L352.16,399.56 L352.29,399.56 L352.29,399.73 L352.39,399.73 L352.39,399.9 L352.5,399.9 L352.5,400.09 L352.6,400.09 L352.6,400.28 L352.7,400.28 L352.7,400.47 L352.8,400.47 L352.8,400.66 L352.91,400.66 L352.91,400.85 L353.01,400.85 L353.01,401.04 L353.11,401.04 L353.11,401.23 L353.22,401.23 L353.22,401.42 L353.32,401.42 L353.32,401.61 L353.42,401.61 L353.42,401.8 L353.52,401.8 L353.52,401.98 L353.63,401.98 L353.63,402.17 L353.73,402.17 L353.73,402.36 L353.83,402.36 L353.83,402.55 L353.94,402.55 L353.94,402.74 L354.04,402.74 L354.04,402.93 L354.14,402.93 L354.14,403.12 L354.24,403.12 L354.24,403.31 L354.35,403.31 L354.35,403.5 L354.45,403.5 L354.45,403.69 L354.55,403.69 L354.55,403.88 L354.65,403.88 L354.65,404.06 L354.76,404.06 L354.76,404.23 L354.86,404.23 L354.86,404.39 L354.96,404.39 L354.96,404.56 L355.07,404.56 L355.07,404.72 L355.17,404.72 L355.17,404.89 L355.27,404.89 L355.27,405.05 L355.37,405.05 L355.37,405.22 L355.48,405.22 L355.48,405.38 L355.58,405.38 L355.58,405.55 L355.68,405.55 L355.68,405.71 L355.79,405.71 L355.79,405.88 L355.89,405.88 L355.89,406.04 L355.99,406.04 L355.99,406.21 L356.09,406.21 L356.09,406.37 L356.2,406.37 L356.2,406.54 L356.3,406.54 L356.3,406.7 L356.4,406.7 L356.4,406.87 L356.51,406.87 L356.51,407.03 L356.61,407.03 L356.61,407.2 L356.71,407.2 L356.71,407.36 L356.81,407.36 L356.81,407.53 L356.92,407.53 L356.92,407.69 L357.02,407.69 L357.02,407.86 L357.12,407.86 L357.12,408.02 L357.22,408.02 L357.22,408.19 L357.33,408.19 L357.33,408.35 L357.43,408.35 L357.43,408.52 L357.53,408.52 L357.53,408.68 L357.64,408.68 L357.64,408.85 L357.74,408.85 L357.74,409.02 L357.84,409.02 L357.84,409.2 L357.94,409.2 L357.94,409.38 L358.05,409.38 L358.05,409.56 L358.15,409.56 L358.15,409.74 L358.25,409.74 L358.25,409.92 L358.36,409.92 L358.36,410.1 L358.46,410.1 L358.46,410.29 L358.56,410.29 L358.56,410.47 L358.66,410.47 L358.66,410.65 L358.77,410.65 L358.77,410.83 L358.87,410.83 L358.87,411.01 L358.97,411.01 L358.97,411.19 L359.07,411.19 L359.07,411.37 L359.18,411.37 L359.18,411.56 L359.28,411.56 L359.28,411.74 L359.38,411.74 L359.38,411.92 L359.49,411.92 L359.49,412.1 L359.59,412.1 L359.59,412.28 L359.69,412.28 L359.69,412.46 L359.79,412.46 L359.79,412.65 L359.9,412.65 L359.9,412.83 L360,412.83 L360,413.01 L360.1,413.01 L360.1,413.19 L360.21,413.19 L360.21,413.37 L360.31,413.37 L360.31,413.55 L360.41,413.55 L360.41,413.73 L360.51,413.73 L360.51,413.92 L360.62,413.92 L360.62,414.1 L360.72,414.1 L360.72,414.28 L360.82,414.28 L360.82,414.46 L360.92,414.46 L360.92,414.64 L361.03,414.64 L361.03,414.82 L361.13,414.82 L361.13,415 L361.23,415 L361.23,415.17 L361.34,415.17 L361.34,415.35 L361.44,415.35 L361.44,415.53 L361.54,415.53 L361.54,415.71 L361.64,415.71 L361.64,415.89 L361.75,415.89 L361.75,416.06 L361.85,416.06 L361.85,416.24 L361.95,416.24 L361.95,416.42 L362.06,416.42 L362.06,416.6 L362.16,416.6 L362.16,416.78 L362.26,416.78 L362.26,416.96 L362.36,416.96 L362.36,417.13 L362.47,417.13 L362.47,417.31 L362.57,417.31 L362.57,417.49 L362.67,417.49 L362.67,417.67 L362.77,417.67 L362.77,417.85 L362.88,417.85 L362.88,418.03 L362.98,418.03 L362.98,418.2 L363.08,418.2 L363.08,418.38 L363.19,418.38 L363.19,418.56 L363.29,418.56 L363.29,418.74 L363.39,418.74 L363.39,418.92 L363.49,418.92 L363.49,419.09 L363.6,419.09 L363.6,419.27 L363.7,419.27 L363.7,419.45 L363.8,419.45 L363.8,419.63 L363.91,419.63 L363.91,419.84 L363.96,419.84 L363.96,420.02 L364.01,420.02 L364.01,420.2 L364.06,420.2 L364.06,420.39 L364.11,420.39 L364.11,420.57 L364.16,420.57 L364.16,420.76 L364.21,420.76 L364.21,420.94 L364.26,420.94 L364.26,421.12 L364.32,421.12 L364.32,421.31 L364.37,421.31 L364.37,421.49 L364.42,421.49 L364.42,421.67 L364.47,421.67 L364.47,421.86 L364.52,421.86 L364.52,422.04 L364.57,422.04 L364.57,422.23 L364.62,422.23 L364.62,422.41 L364.68,422.41 L364.68,422.59 L364.73,422.59 L364.73,422.78 L364.78,422.78 L364.78,422.96 L364.83,422.96 L364.83,423.15 L364.88,423.15 L364.88,423.33 L364.93,423.33 L364.93,423.51 L364.98,423.51 L364.98,423.67 L365.09,423.67 L365.09,423.85 L365.19,423.85 L365.19,424.03 L365.29,424.03 L365.29,424.21 L365.4,424.21 L365.4,424.39 L365.5,424.39 L365.5,424.57 L365.6,424.57 L365.6,424.75 L365.7,424.75 L365.7,424.93 L365.81,424.93 L365.81,425.11 L365.91,425.11 L365.91,425.29 L366.01,425.29 L366.01,425.47 L366.12,425.47 L366.12,425.65 L366.22,425.65 L366.22,425.83 L366.32,425.83 L366.32,426.01 L366.42,426.01 L366.42,426.18 L366.53,426.18 L366.53,426.36 L366.63,426.36 L366.63,426.54 L366.73,426.54 L366.73,426.72 L366.83,426.72 L366.83,426.9 L366.94,426.9 L366.94,427.08 L367.04,427.08 L367.04,427.26 L367.14,427.26 L367.14,427.44 L367.25,427.44 L367.25,427.62 L367.35,427.62 L367.35,427.8 L367.45,427.8 L367.45,427.98 L367.55,427.98 L367.55,428.16 L367.66,428.16 L367.66,428.34 L367.76,428.34 L367.76,428.52 L367.86,428.52 L367.86,428.7 L367.97,428.7 L367.97,428.88 L368.07,428.88 L368.07,429.06 L368.17,429.06 L368.17,429.24 L368.27,429.24 L368.27,429.42 L368.38,429.42 L368.38,429.6 L368.48,429.6 L368.48,429.78 L368.58,429.78 L368.58,429.96 L368.68,429.96 L368.68,430.13 L368.79,430.13 L368.79,430.31 L368.92,430.31 L368.92,430.5 L369.04,430.5 L369.04,430.66 L369.17,430.66 L369.17,430.82 L369.3,430.82 L369.3,430.98 L369.43,430.98 L369.43,431.14 L369.56,431.14 L369.56,431.3 L369.69,431.3 L369.69,431.47 L369.82,431.47 L369.82,431.63 L369.94,431.63 L369.94,431.79 L370.07,431.79 L370.07,431.95 L370.2,431.95 L370.2,432.11 L370.33,432.11 L370.33,432.27 L370.46,432.27 L370.46,432.44 L370.59,432.44 L370.59,432.6 L370.71,432.6 L370.71,432.76 L370.84,432.76 L370.84,432.92 L370.97,432.92 L370.97,433.08 L371.1,433.08 L371.1,433.24 L371.23,433.24 L371.23,433.41 L371.36,433.41 L371.36,433.57 L371.49,433.57 L371.49,433.73 L371.61,433.73 L371.61,433.89 L371.74,433.89 L371.74,434.05 L371.87,434.05 L371.87,434.22 L372,434.22 L372,434.38 L372.13,434.38 L372.13,434.54 L372.26,434.54 L372.26,434.7 L372.38,434.7 L372.38,434.86 L372.51,434.86 L372.51,435.02 L372.64,435.02 L372.64,435.19 L372.77,435.19 L372.77,435.37 L372.87,435.37 L372.87,435.53 L372.98,435.53 L372.98,435.68 L373.08,435.68 L373.08,435.84 L373.18,435.84 L373.18,435.99 L373.28,435.99 L373.28,436.15 L373.39,436.15 L373.39,436.3 L373.49,436.3 L373.49,436.46 L373.59,436.46 L373.59,436.62 L373.7,436.62 L373.7,436.77 L373.8,436.77 L373.8,436.93 L373.9,436.93 L373.9,437.08 L374,437.08 L374,437.24 L374.11,437.24 L374.11,437.39 L374.21,437.39 L374.21,437.55 L374.31,437.55 L374.31,437.71 L374.41,437.71 L374.41,437.86 L374.52,437.86 L374.52,438.02 L374.62,438.02 L374.62,438.17 L374.72,438.17 L374.72,438.33 L374.83,438.33 L374.83,438.49 L374.93,438.49 L374.93,438.64 L375.03,438.64 L375.03,438.8 L375.13,438.8 L375.13,438.95 L375.24,438.95 L375.24,439.11 L375.34,439.11 L375.34,439.26 L375.44,439.26 L375.44,439.42 L375.55,439.42 L375.55,439.58 L375.65,439.58 L375.65,439.73 L375.75,439.73 L375.75,439.89 L375.85,439.89 L375.85,440.04 L375.96,440.04 L375.96,440.2 L376.06,440.2 L376.06,440.35 L376.16,440.35 L376.16,440.51 L376.26,440.51 L376.26,440.67 L376.37,440.67 L376.37,440.82 L376.47,440.82 L376.47,440.98 L376.6,440.98 L376.6,441.14 L376.78,441.14 L376.78,441.32 L376.96,441.32 L376.96,441.49 L377.14,441.49 L377.14,441.67 L377.32,441.67 L377.32,441.84 L377.5,441.84 L377.5,442.02 L377.68,442.02 L377.68,442.2 L377.86,442.2 L377.86,442.37 L378.04,442.37 L378.04,442.55 L378.22,442.55 L378.22,442.72 L378.4,442.72 L378.4,442.9 L378.58,442.9 L378.58,443.07 L378.76,443.07 L378.76,443.25 L378.94,443.25 L378.94,443.42 L379.12,443.42 L379.12,443.6 L379.3,443.6 L379.3,443.78 L379.48,443.78 L379.48,443.95 L379.66,443.95 L379.66,444.13 L379.84,444.13 L379.84,444.3 L380.02,444.3 L380.02,444.48 L380.2,444.48 L380.2,444.65 L380.38,444.65 L380.38,444.83 L380.63,444.83 L380.63,445 L380.89,445 L380.89,445.15 L381.15,445.15 L381.15,445.31 L381.4,445.31 L381.4,445.47 L381.66,445.47 L381.66,445.63 L381.92,445.63 L381.92,445.79 L382.17,445.79 L382.17,445.95 L382.43,445.95 L382.43,446.11 L382.69,446.11 L382.69,446.26 L382.95,446.26 L382.95,446.42 L383.2,446.42 L383.2,446.58 L383.46,446.58 L383.46,446.74 L383.72,446.74 L383.72,446.9 L383.97,446.9 L383.97,447.06 L384.23,447.06 L384.23,447.21 L384.54,447.21 L384.54,447.37 L384.85,447.37 L384.85,447.53 L385.16,447.53 L385.16,447.68 L385.46,447.68 L385.46,447.84 L385.77,447.84 L385.77,447.99 L386.08,447.99 L386.08,448.15 L386.39,448.15 L386.39,448.3 L386.7,448.3 L386.7,448.46 L387.01,448.46 L387.01,448.61 L387.31,448.61 L387.31,448.77 L387.62,448.77 L387.62,448.92 L387.93,448.92 L387.93,449.08 L388.24,449.08 L388.24,449.24 L388.55,449.24 L388.55,449.39 L388.86,449.39 L388.86,449.55 L389.16,449.55 L389.16,449.7 L389.47,449.7 L389.47,449.86 L389.78,449.86 L389.78,450.01 L390.17,450.01 L390.17,450.17 L390.63,450.17 L390.63,450.33 L391.09,450.33 L391.09,450.49 L391.55,450.49 L391.55,450.64 L392.02,450.64 L392.02,450.8 L392.48,450.8 L392.48,450.95 L392.94,450.95 L392.94,451.11 L393.4,451.11 L393.4,451.27 L393.87,451.27 L393.87,451.42 L394.33,451.42 L394.33,451.58 L394.79,451.58 L394.79,451.74 L395.25,451.74 L395.25,451.89 L395.72,451.89 L395.72,452.05 L396.28,452.05 L396.28,452.2 L396.9,452.2 L396.9,452.37 L397.51,452.37 L397.51,452.53 L398.13,452.53 L398.13,452.69 L398.75,452.69 L398.75,452.85 L399.36,452.85 L399.36,453.01 L399.98,453.01 L399.98,453.17 L400.6,453.17 L400.6,453.33 L401.21,453.33 L401.21,453.49 L402.09,453.49 L402.09,453.65 L403.27,453.65 L403.27,453.8 L404.45,453.8 L404.45,453.96 L405.63,453.96 L405.63,454.11 L406.82,454.11 L406.82,454.27 L408,454.27 L408,454.42 L410.13,454.42 L410.13,454.58 L411.42,454.58 L411.42,454.73 L412.7,454.73 L412.7,454.89 L413.99,454.89 L413.99,455.05 L415.27,455.05 L415.27,455.2 L416.14,455.2 L416.14,455.36 L416.79,455.36 L416.79,455.51 L417.43,455.51 L417.43,455.67 L418.07,455.67 L418.07,455.83 L418.71,455.83 L418.71,455.98 L419.36,455.98 L419.36,456.14 L420,456.14 L420,456.29 L420.64,456.29 L420.64,456.45 L421.28,456.45 L421.28,456.61 L422.13,456.61 L422.13,456.76 L423.06,456.76 L423.06,456.92 L423.98,456.92 L423.98,457.07 L424.91,457.07 L424.91,457.23 L425.83,457.23 L425.83,457.39 L426.76,457.39 L426.76,457.54 L428.01,457.54 L428.01,457.7 L429.81,457.7 L429.81,457.85 L431.61,457.85 L431.61,458.01 L433.41,458.01 L433.41,458.17 L435.21,458.17 L435.21,458.32 L437.01,458.32 L437.01,458.48 L438.86,458.48 L438.86,458.63 L442.64,458.63 L442.64,458.79 L446.41,458.79 L446.41,458.94 L448.85,458.94 L448.85,459.1 L449.73,459.1 L449.73,459.25 L450.6,459.25 L450.6,459.41 L451.47,459.41 L451.47,459.57 L452.35,459.57 L452.35,459.72 L453.22,459.72 L453.22,459.88 L454.1,459.88 L454.1,460.04 L454.97,460.04 L454.97,460.19 L457.92,460.19 L457.92,460.35 L461.21,460.35 L461.21,460.5 L464.5,460.5 L464.5,460.66 L467.79,460.66 L467.79,460.81 L471.08,460.81 L471.08,460.97 L472.13,460.97 L472.13,461.12 L472.44,461.12 L472.44,461.28 L472.75,461.28 L472.75,461.44 L473.06,461.44 L473.06,461.59 L473.37,461.59 L473.37,461.75 L473.68,461.75 L473.68,461.9 L473.98,461.9 L473.98,462.06 L476.04,462.06 L476.04,462.21 L478.69,462.21 L478.69,462.37 L481.33,462.37 L481.33,462.52 L483.98,462.52 L483.98,462.68 L486.63,462.68 L486.63,462.83 L489.27,462.83 L489.27,462.98 L491.15,462.98 L491.15,463.15 L491.43,463.15 L491.43,463.31 L491.71,463.31 L491.71,463.46 L492,463.46 L492,463.62 L494.62,463.62 L494.62,463.77 L498.91,463.77 L498.91,463.93 L503.2,463.93 L503.2,464.08 L505.69,464.08 L505.69,464.18 L505.85,464.18" fill="none" stroke="#45b449" stroke-width="1"/>
<path d="M351.7,395.6 L351.75,395.6 L351.75,396.04 L351.8,396.04 L351.8,396.48 L351.85,396.48 L351.85,396.92 L351.91,396.92 L351.91,397.36 L351.96,397.36 L351.96,397.8 L352.01,397.8 L352.01,398.24 L352.06,398.24 L352.06,398.68 L352.11,398.68 L352.11,399.12 L352.16,399.12 L352.16,399.56 L352.52,399.56 L352.52,399.97 L352.93,399.97 L352.93,400.4 L353.34,400.4 L353.34,400.82 L353.76,400.82 L353.76,401.24 L354.17,401.24 L354.17,401.66 L354.58,401.66 L354.58,402.09 L354.94,402.09 L354.94,402.49 L355.3,402.49 L355.3,402.91 L355.66,402.91 L355.66,403.33 L356.02,403.33 L356.02,403.74 L356.38,403.74 L356.38,404.16 L356.74,404.16 L356.74,404.57 L357.07,404.57 L357.07,404.99 L357.38,404.99 L357.38,405.41 L357.69,405.41 L357.69,405.84 L358,405.84 L358,406.26 L358.3,406.26 L358.3,406.69 L358.61,406.69 L358.61,407.12 L358.92,407.12 L358.92,407.54 L359.23,407.54 L359.23,407.97 L359.54,407.97 L359.54,408.39 L359.85,408.39 L359.85,408.82 L360.13,408.82 L360.13,409.22 L360.41,409.22 L360.41,409.64 L360.69,409.64 L360.69,410.07 L360.98,410.07 L360.98,410.49 L361.26,410.49 L361.26,410.92 L361.54,410.92 L361.54,411.34 L361.82,411.34 L361.82,411.76 L362.11,411.76 L362.11,412.19 L362.39,412.19 L362.39,412.62 L362.62,412.62 L362.62,413.05 L362.85,413.05 L362.85,413.48 L363.08,413.48 L363.08,413.91 L363.31,413.91 L363.31,414.33 L363.55,414.33 L363.55,414.76 L363.62,414.76 L363.62,415.19 L363.67,415.19 L363.67,415.63 L363.73,415.63 L363.73,416.08 L363.78,416.08 L363.78,416.52 L363.83,416.52 L363.83,416.97 L363.88,416.97 L363.88,417.41 L364.11,417.41 L364.11,417.83 L364.39,417.83 L364.39,418.25 L364.68,418.25 L364.68,418.66 L364.96,418.66 L364.96,419.08 L365.24,419.08 L365.24,419.5 L365.52,419.5 L365.52,419.9 L365.83,419.9 L365.83,420.32 L366.14,420.32 L366.14,420.74 L366.45,420.74 L366.45,421.15 L366.76,421.15 L366.76,421.57 L367.01,421.57 L367.01,421.98 L367.14,421.98 L367.14,422.38 L367.27,422.38 L367.27,422.78 L367.4,422.78 L367.4,423.18 L367.53,423.18 L367.53,423.58 L367.66,423.58 L367.66,423.98 L367.79,423.98 L367.79,424.37 L367.91,424.37 L367.91,424.77 L368.04,424.77 L368.04,425.17 L368.17,425.17 L368.17,425.57 L368.3,425.57 L368.3,425.97 L368.43,425.97 L368.43,426.37 L368.56,426.37 L368.56,426.77 L368.68,426.77 L368.68,427.17 L368.81,427.17 L368.81,427.56 L369.02,427.56 L369.02,427.98 L369.25,427.98 L369.25,428.42 L369.48,428.42 L369.48,428.87 L369.71,428.87 L369.71,429.31 L369.94,429.31 L369.94,429.76 L370.17,429.76 L370.17,430.21 L370.41,430.21 L370.41,430.65 L370.64,430.65 L370.64,431.1 L370.87,431.1 L370.87,431.5 L371.46,431.5 L371.46,431.9 L372.05,431.9 L372.05,432.3 L372.64,432.3 L372.64,432.7 L373.23,432.7 L373.23,433.1 L373.82,433.1 L373.82,433.52 L374.21,433.52 L374.21,433.92 L374.59,433.92 L374.59,434.32 L374.98,434.32 L374.98,434.72 L375.37,434.72 L375.37,435.13 L375.75,435.13 L375.75,435.53 L376.14,435.53 L376.14,435.93 L376.52,435.93 L376.52,436.33 L376.91,436.33 L376.91,436.74 L377.29,436.74 L377.29,437.14 L377.73,437.14 L377.73,437.55 L378.19,437.55 L378.19,437.95 L378.65,437.95 L378.65,438.36 L379.12,438.36 L379.12,438.76 L379.58,438.76 L379.58,439.17 L380.04,439.17 L380.04,439.57 L380.5,439.57 L380.5,439.97 L380.97,439.97 L380.97,440.38 L381.58,440.38 L381.58,440.78 L382.71,440.78 L382.71,441.19 L383.84,441.19 L383.84,441.6 L384.98,441.6 L384.98,442 L385.82,442 L385.82,442.41 L386.59,442.41 L386.59,442.81 L387.36,442.81 L387.36,443.21 L388.14,443.21 L388.14,443.61 L388.91,443.61 L388.91,444.01 L389.68,444.01 L389.68,444.41 L391.17,444.41 L391.17,444.8 L393.1,444.8 L393.1,445.2 L395.05,445.2 L395.05,445.6 L397.18,445.6 L397.18,446 L399.31,446 L399.31,446.4 L402.55,446.4 L402.55,446.8 L406.35,446.8 L406.35,447.19 L414.7,447.19 L414.7,447.59 L416.81,447.59 L416.81,447.99 L417.99,447.99 L417.99,448.39 L419.97,448.39 L419.97,448.79 L423,448.79 L423,449.19 L426.04,449.19 L426.04,449.59 L429.07,449.59 L429.07,449.99 L434.49,449.99 L434.49,450.39 L440.22,450.39 L440.22,450.79 L446.72,450.79 L446.72,451.19 L451.24,451.19 L451.24,451.59 L455.05,451.59 L455.05,451.98 L495.49,451.98 L495.49,452.39 L496.08,452.39 L496.08,452.79 L496.67,452.79 L496.67,453.2 L497.26,453.2 L497.26,453.61 L505.69,453.61 L505.69,453.97 L505.85,453.97" fill="none" stroke="#26538a" stroke-width="1"/>
<path d="M379.5,445.58 V449.38 M396.5,457.77 V461.57 M413.5,463.31 V467.11 M417.5,463.31 V467.11 M421.5,463.31 V467.11 M424.5,463.31 V467.11 M464.5,464.42 V468.22 M468.5,464.42 V468.22 M476.5,464.42 V468.22 M484.5,464.42 V468.22 M487.5,464.42 V468.22 M501.5,470.05 V473.85" stroke="#e4402a" stroke-width="1"/>
<path d="M391.5,448.33 V452.33 M397.5,450.53 V454.53 M401.5,451.33 V455.33 M404.5,451.96 V455.96 M407.5,452.27 V456.27 M410.5,452.58 V456.58 M413.5,452.89 V456.89 M414.5,453.05 V457.05 M414.5,453.05 V457.05 M415.5,453.2 V457.2 M416.5,453.2 V457.2 M418.5,453.83 V457.83 M421.5,454.61 V458.61 M421.5,454.61 V458.61 M422.5,454.61 V458.61 M422.5,454.61 V458.61 M424.5,455.07 V459.07 M424.5,455.07 V459.07 M425.5,455.23 V459.23 M426.5,455.39 V459.39 M426.5,455.39 V459.39 M429.5,455.7 V459.7 M431.5,455.85 V459.85 M431.5,455.85 V459.85 M431.5,456.01 V460.01 M432.5,456.01 V460.01 M432.5,456.01 V460.01 M436.5,456.32 V460.32 M437.5,456.32 V460.32 M437.5,456.48 V460.48 M437.5,456.48 V460.48 M438.5,456.48 V460.48 M438.5,456.48 V460.48 M438.5,456.48 V460.48 M438.5,456.48 V460.48 M440.5,456.63 V460.63 M441.5,456.63 V460.63 M441.5,456.63 V460.63 M441.5,456.63 V460.63 M442.5,456.63 V460.63 M443.5,456.79 V460.79 M443.5,456.79 V460.79 M444.5,456.79 V460.79 M444.5,456.79 V460.79 M446.5,456.94 V460.94 M446.5,456.94 V460.94 M446.5,456.94 V460.94 M447.5,456.94 V460.94 M448.5,456.94 V460.94 M448.5,456.94 V460.94 M448.5,456.94 V460.94 M449.5,457.1 V461.1 M450.5,457.25 V461.25 M451.5,457.41 V461.41 M451.5,457.41 V461.41 M451.5,457.57 V461.57 M452.5,457.72 V461.72 M454.5,458.04 V462.04 M454.5,458.04 V462.04 M455.5,458.19 V462.19 M456.5,458.19 V462.19 M457.5,458.19 V462.19 M457.5,458.19 V462.19 M457.5,458.19 V462.19 M458.5,458.35 V462.35 M458.5,458.35 V462.35 M458.5,458.35 V462.35 M461.5,458.35 V462.35 M461.5,458.5 V462.5 M462.5,458.5 V462.5 M463.5,458.5 V462.5 M464.5,458.66 V462.66 M467.5,458.81 V462.81 M467.5,458.81 V462.81 M467.5,458.81 V462.81 M469.5,458.81 V462.81 M469.5,458.81 V462.81 M470.5,458.81 V462.81 M470.5,458.81 V462.81 M472.5,459.12 V463.12 M473.5,459.59 V463.59 M474.5,460.06 V464.06 M474.5,460.06 V464.06 M474.5,460.06 V464.06 M474.5,460.06 V464.06 M475.5,460.06 V464.06 M476.5,460.21 V464.21 M476.5,460.21 V464.21 M478.5,460.21 V464.21 M478.5,460.21 V464.21 M478.5,460.37 V464.37 M480.5,460.37 V464.37 M482.5,460.52 V464.52 M482.5,460.52 V464.52 M483.5,460.52 V464.52 M484.5,460.68 V464.68 M485.5,460.68 V464.68 M486.5,460.68 V464.68 M486.5,460.83 V464.83 M487.5,460.83 V464.83 M487.5,460.83 V464.83 M487.5,460.83 V464.83 M487.5,460.83 V464.83 M487.5,460.83 V464.83 M487.5,460.83 V464.83 M487.5,460.83 V464.83 M487.5,460.83 V464.83 M489.5,460.98 V464.98 M490.5,460.98 V464.98 M491.5,461.31 V465.31 M493.5,461.62 V465.62 M494.5,461.77 V465.77 M494.5,461.77 V465.77 M495.5,461.77 V465.77 M496.5,461.77 V465.77 M497.5,461.77 V465.77 M497.5,461.77 V465.77 M498.5,461.77 V465.77 M499.5,461.93 V465.93 M499.5,461.93 V465.93 M501.5,461.93 V465.93 M503.5,462.08 V466.08 M503.5,462.08 V466.08 M504.5,462.08 V466.08 M504.5,462.08 V466.08 M505.5,462.18 V466.18" stroke="#45b449" stroke-width="1.1"/>
<path d="M384.5,439.7 V443.5 M399.5,444.5 V448.3 M402.5,444.9 V448.7 M405.5,444.9 V448.7 M413.5,445.29 V449.09 M414.5,445.29 V449.09 M416.5,445.69 V449.49 M419.5,446.49 V450.29 M423.5,447.29 V451.09 M425.5,447.29 V451.09 M426.5,447.69 V451.49 M426.5,447.69 V451.49 M428.5,447.69 V451.49 M428.5,447.69 V451.49 M432.5,448.09 V451.89 M432.5,448.09 V451.89 M433.5,448.09 V451.89 M433.5,448.09 V451.89 M436.5,448.49 V452.29 M439.5,448.49 V452.29 M440.5,448.49 V452.29 M441.5,448.89 V452.69 M446.5,449.29 V453.09 M456.5,450.08 V453.88 M456.5,450.08 V453.88 M463.5,450.08 V453.88 M463.5,450.08 V453.88 M466.5,450.08 V453.88 M470.5,450.08 V453.88 M471.5,450.08 V453.88 M473.5,450.08 V453.88 M476.5,450.08 V453.88 M477.5,450.08 V453.88 M481.5,450.08 V453.88 M482.5,450.08 V453.88 M484.5,450.08 V453.88 M487.5,450.08 V453.88 M487.5,450.08 V453.88 M494.5,450.08 V453.88 M494.5,450.08 V453.88 M496.5,450.89 V454.69 M496.5,451.3 V455.1 M498.5,451.71 V455.51 M498.5,451.71 V455.51 M500.5,451.71 V455.51 M500.5,451.71 V455.51 M500.5,451.71 V455.51 M502.5,451.71 V455.51 M502.5,451.71 V455.51 M504.5,451.71 V455.51" stroke="#26538a" stroke-width="0.9"/>
<path d="M434.5,444.6 L424.4,454.4" stroke="#2f5a33" stroke-width="0.8"/>
<text x="377.9" y="434.8" font-size="8" fill="#3a5f8c" textLength="94.2" lengthAdjust="spacingAndGlyphs" stroke="#3a5f8c" stroke-width="0.05">SDI low and white (n = 249)</text>
<text x="405" y="442.8" font-size="8" fill="#5cb85a" textLength="96.5" lengthAdjust="spacingAndGlyphs" stroke="#5cb85a" stroke-width="0.05">SDI high and white (n = 643)</text>
<text x="389" y="476.2" font-size="8" fill="#e2574a" textLength="92.3" lengthAdjust="spacingAndGlyphs" stroke="#e2574a" stroke-width="0.05">SDI high and black (n = 90)</text>
<text x="463.6" y="406.5" font-size="8" fill="#231f20" stroke="#231f20" stroke-width="0.17" textLength="23.8" lengthAdjust="spacingAndGlyphs"><tspan font-style="italic">P</tspan> = .01</text>
<text x="337.9" y="519.2" font-size="8.1" text-anchor="end" fill="#231f20" textLength="50.1" lengthAdjust="spacingAndGlyphs" stroke="#231f20" stroke-width="0.17">Number at Risk</text>
<text x="337.9" y="529.4" font-size="8.1" text-anchor="end" fill="#231f20" textLength="72.7" lengthAdjust="spacingAndGlyphs" stroke="#231f20" stroke-width="0.17">SDI low and white pts</text>
<text x="351.7" y="529.4" font-size="8.1" text-anchor="middle" fill="#231f20" textLength="13.21" lengthAdjust="spacingAndGlyphs" stroke="#231f20" stroke-width="0.17">249</text>
<text x="367.13" y="529.4" font-size="8.1" text-anchor="middle" fill="#231f20" textLength="13.21" lengthAdjust="spacingAndGlyphs" stroke="#231f20" stroke-width="0.17">182</text>
<text x="382.56" y="529.4" font-size="8.1" text-anchor="middle" fill="#231f20" textLength="13.21" lengthAdjust="spacingAndGlyphs" stroke="#231f20" stroke-width="0.17">135</text>
<text x="397.99" y="529.4" font-size="8.1" text-anchor="middle" fill="#231f20" textLength="13.21" lengthAdjust="spacingAndGlyphs" stroke="#231f20" stroke-width="0.17">121</text>
<text x="413.42" y="529.4" font-size="8.1" text-anchor="middle" fill="#231f20" textLength="12.63" lengthAdjust="spacingAndGlyphs" stroke="#231f20" stroke-width="0.17">115</text>
<text x="428.85" y="529.4" font-size="8.1" text-anchor="middle" fill="#231f20" textLength="13.21" lengthAdjust="spacingAndGlyphs" stroke="#231f20" stroke-width="0.17">107</text>
<text x="444.28" y="529.4" font-size="8.1" text-anchor="middle" fill="#231f20" textLength="8.81" lengthAdjust="spacingAndGlyphs" stroke="#231f20" stroke-width="0.17">77</text>
<text x="459.71" y="529.4" font-size="8.1" text-anchor="middle" fill="#231f20" textLength="8.81" lengthAdjust="spacingAndGlyphs" stroke="#231f20" stroke-width="0.17">64</text>
<text x="475.14" y="529.4" font-size="8.1" text-anchor="middle" fill="#231f20" textLength="8.81" lengthAdjust="spacingAndGlyphs" stroke="#231f20" stroke-width="0.17">52</text>
<text x="490.57" y="529.4" font-size="8.1" text-anchor="middle" fill="#231f20" textLength="8.81" lengthAdjust="spacingAndGlyphs" stroke="#231f20" stroke-width="0.17">40</text>
<text x="506" y="529.4" font-size="8.1" text-anchor="middle" fill="#231f20" textLength="8.81" lengthAdjust="spacingAndGlyphs" stroke="#231f20" stroke-width="0.17">24</text>
<text x="337.9" y="540.2" font-size="8.1" text-anchor="end" fill="#231f20" textLength="75.1" lengthAdjust="spacingAndGlyphs" stroke="#231f20" stroke-width="0.17">SDI high and white pts</text>
<text x="351.7" y="540.2" font-size="8.1" text-anchor="middle" fill="#231f20" textLength="13.21" lengthAdjust="spacingAndGlyphs" stroke="#231f20" stroke-width="0.17">643</text>
<text x="367.13" y="540.2" font-size="8.1" text-anchor="middle" fill="#231f20" textLength="13.21" lengthAdjust="spacingAndGlyphs" stroke="#231f20" stroke-width="0.17">426</text>
<text x="382.56" y="540.2" font-size="8.1" text-anchor="middle" fill="#231f20" textLength="13.21" lengthAdjust="spacingAndGlyphs" stroke="#231f20" stroke-width="0.17">314</text>
<text x="397.99" y="540.2" font-size="8.1" text-anchor="middle" fill="#231f20" textLength="13.21" lengthAdjust="spacingAndGlyphs" stroke="#231f20" stroke-width="0.17">266</text>
<text x="413.42" y="540.2" font-size="8.1" text-anchor="middle" fill="#231f20" textLength="13.21" lengthAdjust="spacingAndGlyphs" stroke="#231f20" stroke-width="0.17">243</text>
<text x="428.85" y="540.2" font-size="8.1" text-anchor="middle" fill="#231f20" textLength="13.21" lengthAdjust="spacingAndGlyphs" stroke="#231f20" stroke-width="0.17">218</text>
<text x="444.28" y="540.2" font-size="8.1" text-anchor="middle" fill="#231f20" textLength="13.21" lengthAdjust="spacingAndGlyphs" stroke="#231f20" stroke-width="0.17">180</text>
<text x="459.71" y="540.2" font-size="8.1" text-anchor="middle" fill="#231f20" textLength="13.21" lengthAdjust="spacingAndGlyphs" stroke="#231f20" stroke-width="0.17">140</text>
<text x="475.14" y="540.2" font-size="8.1" text-anchor="middle" fill="#231f20" textLength="12.63" lengthAdjust="spacingAndGlyphs" stroke="#231f20" stroke-width="0.17">113</text>
<text x="490.57" y="540.2" font-size="8.1" text-anchor="middle" fill="#231f20" textLength="8.81" lengthAdjust="spacingAndGlyphs" stroke="#231f20" stroke-width="0.17">87</text>
<text x="506" y="540.2" font-size="8.1" text-anchor="middle" fill="#231f20" textLength="8.81" lengthAdjust="spacingAndGlyphs" stroke="#231f20" stroke-width="0.17">55</text>
<text x="337.9" y="550.7" font-size="8.1" text-anchor="end" fill="#231f20" textLength="75.1" lengthAdjust="spacingAndGlyphs" stroke="#231f20" stroke-width="0.17">SDI high and black pts</text>
<text x="351.7" y="550.7" font-size="8.1" text-anchor="middle" fill="#231f20" textLength="8.81" lengthAdjust="spacingAndGlyphs" stroke="#231f20" stroke-width="0.17">90</text>
<text x="367.13" y="550.7" font-size="8.1" text-anchor="middle" fill="#231f20" textLength="8.81" lengthAdjust="spacingAndGlyphs" stroke="#231f20" stroke-width="0.17">57</text>
<text x="382.56" y="550.7" font-size="8.1" text-anchor="middle" fill="#231f20" textLength="8.81" lengthAdjust="spacingAndGlyphs" stroke="#231f20" stroke-width="0.17">36</text>
<text x="397.99" y="550.7" font-size="8.1" text-anchor="middle" fill="#231f20" textLength="8.81" lengthAdjust="spacingAndGlyphs" stroke="#231f20" stroke-width="0.17">28</text>
<text x="413.42" y="550.7" font-size="8.1" text-anchor="middle" fill="#231f20" textLength="8.81" lengthAdjust="spacingAndGlyphs" stroke="#231f20" stroke-width="0.17">24</text>
<text x="428.85" y="550.7" font-size="8.1" text-anchor="middle" fill="#231f20" textLength="8.81" lengthAdjust="spacingAndGlyphs" stroke="#231f20" stroke-width="0.17">21</text>
<text x="444.28" y="550.7" font-size="8.1" text-anchor="middle" fill="#231f20" textLength="8.81" lengthAdjust="spacingAndGlyphs" stroke="#231f20" stroke-width="0.17">17</text>
<text x="459.71" y="550.7" font-size="8.1" text-anchor="middle" fill="#231f20" textLength="8.81" lengthAdjust="spacingAndGlyphs" stroke="#231f20" stroke-width="0.17">17</text>
<text x="475.14" y="550.7" font-size="8.1" text-anchor="middle" fill="#231f20" textLength="8.81" lengthAdjust="spacingAndGlyphs" stroke="#231f20" stroke-width="0.17">17</text>
<text x="490.57" y="550.7" font-size="8.1" text-anchor="middle" fill="#231f20" textLength="8.22" lengthAdjust="spacingAndGlyphs" stroke="#231f20" stroke-width="0.17">11</text>
<text x="506" y="550.7" font-size="8.1" text-anchor="middle" fill="#231f20" textLength="4.4" lengthAdjust="spacingAndGlyphs" stroke="#231f20" stroke-width="0.17">7</text>
<text x="9.9" y="16.8" font-size="11" fill="#000" font-weight="bold" textLength="7.94" lengthAdjust="spacingAndGlyphs" stroke="#000" stroke-width="0.1">A</text>
<text x="275" y="17.2" font-size="11" fill="#000" font-weight="bold" textLength="7.94" lengthAdjust="spacingAndGlyphs" stroke="#000" stroke-width="0.1">B</text>
<text x="101.2" y="223.9" font-size="11" fill="#000" font-weight="bold" textLength="7.94" lengthAdjust="spacingAndGlyphs" stroke="#000" stroke-width="0.1">C</text>
<text x="9.6" y="381" font-size="11" fill="#000" font-weight="bold" textLength="7.94" lengthAdjust="spacingAndGlyphs" stroke="#000" stroke-width="0.1">D</text>
<text x="259.2" y="380.9" font-size="11" fill="#000" font-weight="bold" textLength="7.34" lengthAdjust="spacingAndGlyphs" stroke="#000" stroke-width="0.1">E</text>
</g>
<rect x="0.5" y="0.5" width="519" height="559" fill="none" stroke="#5e5e5e" stroke-width="1"/>
</svg></body></html>
